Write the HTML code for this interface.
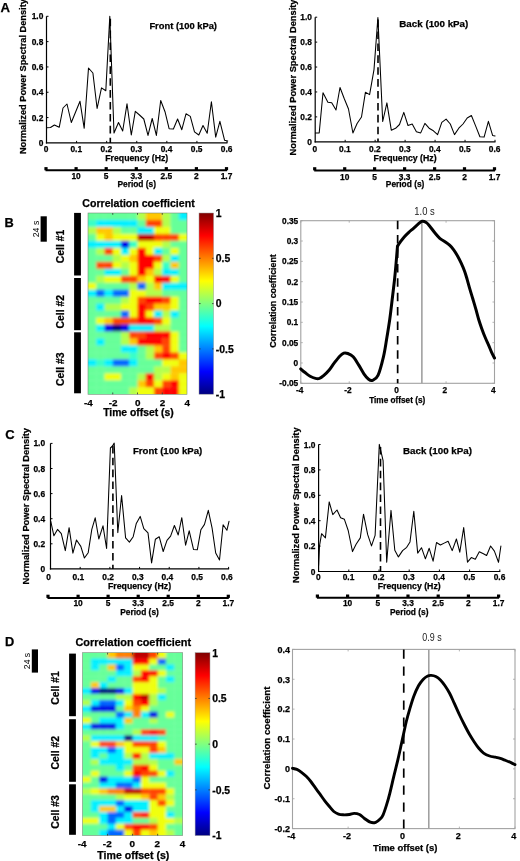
<!DOCTYPE html>
<html><head><meta charset="utf-8"><style>
html,body{margin:0;padding:0;background:#fff;width:520px;height:861px;overflow:hidden}
svg{display:block;filter:blur(0.35px)}
text{font-family:"Liberation Sans", sans-serif}
text[font-weight="bold"]{stroke:#000;stroke-width:0.25px}
</style></head><body>
<svg width="520" height="861" viewBox="0 0 520 861" font-family='"Liberation Sans", sans-serif'>
<defs><filter id="blur" x="-5%" y="-5%" width="110%" height="110%"><feGaussianBlur stdDeviation="1.5"/></filter></defs>
<rect width="520" height="861" fill="#fff"/>
<text x="0.4" y="11.6" font-size="13.2" font-weight="bold">A</text>
<line x1="46.5" y1="16.3" x2="46.5" y2="143.5" stroke="#000" stroke-width="1.2" />
<line x1="45.9" y1="142.9" x2="227.5" y2="142.9" stroke="#000" stroke-width="1.2" />
<line x1="46.5" y1="117.58" x2="48.5" y2="117.58" stroke="#000" stroke-width="1" />
<line x1="46.5" y1="92.25999999999999" x2="48.5" y2="92.25999999999999" stroke="#000" stroke-width="1" />
<line x1="46.5" y1="66.94" x2="48.5" y2="66.94" stroke="#000" stroke-width="1" />
<line x1="46.5" y1="41.61999999999999" x2="48.5" y2="41.61999999999999" stroke="#000" stroke-width="1" />
<line x1="46.5" y1="16.299999999999997" x2="48.5" y2="16.299999999999997" stroke="#000" stroke-width="1" />
<line x1="76.58333333333333" y1="142.9" x2="76.58333333333333" y2="140.9" stroke="#000" stroke-width="1" />
<line x1="106.66666666666666" y1="142.9" x2="106.66666666666666" y2="140.9" stroke="#000" stroke-width="1" />
<line x1="136.75" y1="142.9" x2="136.75" y2="140.9" stroke="#000" stroke-width="1" />
<line x1="166.83333333333331" y1="142.9" x2="166.83333333333331" y2="140.9" stroke="#000" stroke-width="1" />
<line x1="196.91666666666666" y1="142.9" x2="196.91666666666666" y2="140.9" stroke="#000" stroke-width="1" />
<line x1="227.0" y1="142.9" x2="227.0" y2="140.9" stroke="#000" stroke-width="1" />
<polyline points="46.7,127.7 50.5,127.5 54.4,125.0 59.2,127.3 63.0,108.0 67.0,104.0 71.3,122.5 75.6,112.0 80.0,101.3 84.2,128.3 88.5,68.0 92.9,73.0 97.1,108.5 101.5,87.9 105.8,90.8 109.8,16.2 114.0,133.0 118.5,122.5 122.7,131.0 127.0,103.8 131.3,135.0 135.3,111.3 139.5,115.0 143.8,119.0 148.0,135.4 152.2,118.5 156.4,135.4 160.7,100.5 165.0,111.7 169.1,128.7 173.4,129.0 177.6,119.0 181.8,129.7 186.0,113.8 190.3,116.4 194.5,131.8 198.8,135.0 203.0,125.5 207.2,133.3 211.4,101.8 215.7,137.1 219.9,121.3 224.6,140.3 227.7,141.0" fill="none" stroke="#000" stroke-width="1.05" stroke-linejoin="round" stroke-linecap="round" />
<line x1="110.3" y1="18.7" x2="110.3" y2="142.9" stroke="#000" stroke-width="1.6" stroke-dasharray="7.6,4.3"/>
<text x="43.3" y="145.9" font-size="8.4" text-anchor="end" font-weight="bold" fill="#000" >0</text>
<text x="43.3" y="120.58" font-size="8.4" text-anchor="end" font-weight="bold" fill="#000" >0.2</text>
<text x="43.3" y="95.25999999999999" font-size="8.4" text-anchor="end" font-weight="bold" fill="#000" >0.4</text>
<text x="43.3" y="69.94" font-size="8.4" text-anchor="end" font-weight="bold" fill="#000" >0.6</text>
<text x="43.3" y="44.61999999999999" font-size="8.4" text-anchor="end" font-weight="bold" fill="#000" >0.8</text>
<text x="43.3" y="19.299999999999997" font-size="8.4" text-anchor="end" font-weight="bold" fill="#000" >1.0</text>
<text x="46.2" y="152.1" font-size="8.4" text-anchor="middle" font-weight="bold" fill="#000" >0</text>
<text x="76.28333333333333" y="152.1" font-size="8.4" text-anchor="middle" font-weight="bold" fill="#000" >0.1</text>
<text x="106.36666666666666" y="152.1" font-size="8.4" text-anchor="middle" font-weight="bold" fill="#000" >0.2</text>
<text x="136.45" y="152.1" font-size="8.4" text-anchor="middle" font-weight="bold" fill="#000" >0.3</text>
<text x="166.5333333333333" y="152.1" font-size="8.4" text-anchor="middle" font-weight="bold" fill="#000" >0.4</text>
<text x="196.61666666666665" y="152.1" font-size="8.4" text-anchor="middle" font-weight="bold" fill="#000" >0.5</text>
<text x="226.7" y="152.1" font-size="8.4" text-anchor="middle" font-weight="bold" fill="#000" >0.6</text>
<text x="136.75" y="161.1" font-size="8.9" text-anchor="middle" font-weight="bold" fill="#000" textLength="63" lengthAdjust="spacingAndGlyphs">Frequency (Hz)</text>
<line x1="45.5" y1="170.3" x2="227.0" y2="170.3" stroke="#000" stroke-width="2.0" />
<rect x="44.4" y="167.1" width="3.2" height="3.2" fill="#000"/>
<rect x="74.5" y="167.1" width="3.2" height="3.2" fill="#000"/>
<rect x="104.6" y="167.1" width="3.2" height="3.2" fill="#000"/>
<rect x="134.7" y="167.1" width="3.2" height="3.2" fill="#000"/>
<rect x="164.7" y="167.1" width="3.2" height="3.2" fill="#000"/>
<rect x="194.8" y="167.1" width="3.2" height="3.2" fill="#000"/>
<rect x="224.9" y="167.1" width="3.2" height="3.2" fill="#000"/>
<text x="76.08333333333333" y="179" font-size="8.4" text-anchor="middle" font-weight="bold" fill="#000" >10</text>
<text x="106.16666666666666" y="179" font-size="8.4" text-anchor="middle" font-weight="bold" fill="#000" >5</text>
<text x="136.25" y="179" font-size="8.4" text-anchor="middle" font-weight="bold" fill="#000" >3.3</text>
<text x="166.33333333333331" y="179" font-size="8.4" text-anchor="middle" font-weight="bold" fill="#000" >2.5</text>
<text x="196.41666666666666" y="179" font-size="8.4" text-anchor="middle" font-weight="bold" fill="#000" >2</text>
<text x="226.5" y="179" font-size="8.4" text-anchor="middle" font-weight="bold" fill="#000" >1.7</text>
<text x="136.75" y="186.8" font-size="8.8" text-anchor="middle" font-weight="bold" fill="#000" textLength="38.6" lengthAdjust="spacingAndGlyphs">Period (s)</text>
<text transform="translate(26.3,76.6) rotate(-90)" x="0" y="0" font-size="9.6" text-anchor="middle" font-weight="bold" textLength="155" lengthAdjust="spacingAndGlyphs">Normalized Power Spectral Density</text>
<text x="149.4" y="28.6" font-size="9.6" font-weight="bold" textLength="67.6" lengthAdjust="spacingAndGlyphs">Front (100 kPa)</text>
<line x1="315.2" y1="17.2" x2="315.2" y2="142.4" stroke="#000" stroke-width="1.2" />
<line x1="314.59999999999997" y1="141.8" x2="495.5" y2="141.8" stroke="#000" stroke-width="1.2" />
<line x1="315.2" y1="116.88000000000001" x2="317.2" y2="116.88000000000001" stroke="#000" stroke-width="1" />
<line x1="315.2" y1="91.96000000000001" x2="317.2" y2="91.96000000000001" stroke="#000" stroke-width="1" />
<line x1="315.2" y1="67.04" x2="317.2" y2="67.04" stroke="#000" stroke-width="1" />
<line x1="315.2" y1="42.120000000000005" x2="317.2" y2="42.120000000000005" stroke="#000" stroke-width="1" />
<line x1="315.2" y1="17.200000000000003" x2="317.2" y2="17.200000000000003" stroke="#000" stroke-width="1" />
<line x1="345.16666666666663" y1="141.8" x2="345.16666666666663" y2="139.8" stroke="#000" stroke-width="1" />
<line x1="375.1333333333333" y1="141.8" x2="375.1333333333333" y2="139.8" stroke="#000" stroke-width="1" />
<line x1="405.1" y1="141.8" x2="405.1" y2="139.8" stroke="#000" stroke-width="1" />
<line x1="435.06666666666666" y1="141.8" x2="435.06666666666666" y2="139.8" stroke="#000" stroke-width="1" />
<line x1="465.0333333333333" y1="141.8" x2="465.0333333333333" y2="139.8" stroke="#000" stroke-width="1" />
<line x1="495.0" y1="141.8" x2="495.0" y2="139.8" stroke="#000" stroke-width="1" />
<polyline points="315.4,133.0 319.2,133.0 323.0,92.7 327.9,102.3 331.7,102.7 336.0,110.0 340.0,87.5 344.2,98.5 348.5,109.0 352.9,133.0 357.1,123.5 361.5,117.0 365.4,92.3 369.6,94.6 374.0,69.6 377.9,17.5 382.7,121.5 386.9,102.9 391.3,130.2 395.6,128.3 399.5,124.5 403.8,112.4 408.0,125.5 412.2,124.0 416.4,131.8 420.7,132.9 424.9,123.4 429.1,128.2 433.4,130.8 437.6,134.6 441.8,122.3 446.1,119.1 450.3,124.0 454.5,134.6 458.8,128.2 463.0,124.0 467.2,118.0 471.4,115.5 475.7,126.1 479.9,136.7 484.1,137.1 488.4,121.3 492.6,135.4 495.1,136.0" fill="none" stroke="#000" stroke-width="1.05" stroke-linejoin="round" stroke-linecap="round" />
<line x1="378" y1="19.599999999999998" x2="378" y2="141.8" stroke="#000" stroke-width="1.6" stroke-dasharray="7.6,4.3"/>
<text x="312.0" y="144.8" font-size="8.4" text-anchor="end" font-weight="bold" fill="#000" >0</text>
<text x="312.0" y="119.88000000000001" font-size="8.4" text-anchor="end" font-weight="bold" fill="#000" >0.2</text>
<text x="312.0" y="94.96000000000001" font-size="8.4" text-anchor="end" font-weight="bold" fill="#000" >0.4</text>
<text x="312.0" y="70.04" font-size="8.4" text-anchor="end" font-weight="bold" fill="#000" >0.6</text>
<text x="312.0" y="45.120000000000005" font-size="8.4" text-anchor="end" font-weight="bold" fill="#000" >0.8</text>
<text x="312.0" y="20.200000000000003" font-size="8.4" text-anchor="end" font-weight="bold" fill="#000" >1.0</text>
<text x="314.9" y="151.8" font-size="8.4" text-anchor="middle" font-weight="bold" fill="#000" >0</text>
<text x="344.8666666666666" y="151.8" font-size="8.4" text-anchor="middle" font-weight="bold" fill="#000" >0.1</text>
<text x="374.8333333333333" y="151.8" font-size="8.4" text-anchor="middle" font-weight="bold" fill="#000" >0.2</text>
<text x="404.8" y="151.8" font-size="8.4" text-anchor="middle" font-weight="bold" fill="#000" >0.3</text>
<text x="434.76666666666665" y="151.8" font-size="8.4" text-anchor="middle" font-weight="bold" fill="#000" >0.4</text>
<text x="464.7333333333333" y="151.8" font-size="8.4" text-anchor="middle" font-weight="bold" fill="#000" >0.5</text>
<text x="494.7" y="151.8" font-size="8.4" text-anchor="middle" font-weight="bold" fill="#000" >0.6</text>
<text x="405.1" y="161.4" font-size="8.9" text-anchor="middle" font-weight="bold" fill="#000" textLength="63" lengthAdjust="spacingAndGlyphs">Frequency (Hz)</text>
<line x1="314.2" y1="170.4" x2="495.0" y2="170.4" stroke="#000" stroke-width="2.0" />
<rect x="313.1" y="167.2" width="3.2" height="3.2" fill="#000"/>
<rect x="343.1" y="167.2" width="3.2" height="3.2" fill="#000"/>
<rect x="373.0" y="167.2" width="3.2" height="3.2" fill="#000"/>
<rect x="403.0" y="167.2" width="3.2" height="3.2" fill="#000"/>
<rect x="433.0" y="167.2" width="3.2" height="3.2" fill="#000"/>
<rect x="462.9" y="167.2" width="3.2" height="3.2" fill="#000"/>
<rect x="492.9" y="167.2" width="3.2" height="3.2" fill="#000"/>
<text x="344.66666666666663" y="179.5" font-size="8.4" text-anchor="middle" font-weight="bold" fill="#000" >10</text>
<text x="374.6333333333333" y="179.5" font-size="8.4" text-anchor="middle" font-weight="bold" fill="#000" >5</text>
<text x="404.6" y="179.5" font-size="8.4" text-anchor="middle" font-weight="bold" fill="#000" >3.3</text>
<text x="434.56666666666666" y="179.5" font-size="8.4" text-anchor="middle" font-weight="bold" fill="#000" >2.5</text>
<text x="464.5333333333333" y="179.5" font-size="8.4" text-anchor="middle" font-weight="bold" fill="#000" >2</text>
<text x="494.5" y="179.5" font-size="8.4" text-anchor="middle" font-weight="bold" fill="#000" >1.7</text>
<text x="405.1" y="187.3" font-size="8.8" text-anchor="middle" font-weight="bold" fill="#000" textLength="38.6" lengthAdjust="spacingAndGlyphs">Period (s)</text>
<text transform="translate(295.6,77.5) rotate(-90)" x="0" y="0" font-size="9.6" text-anchor="middle" font-weight="bold" textLength="156" lengthAdjust="spacingAndGlyphs">Normalized Power Spectral Density</text>
<text x="399.3" y="27" font-size="9.6" font-weight="bold" textLength="69" lengthAdjust="spacingAndGlyphs">Back (100 kPa)</text>
<text x="4.6" y="227.2" font-size="12.8" font-weight="bold">B</text>
<rect x="40.6" y="216.3" width="6.2" height="25.4" fill="#000"/>
<text transform="translate(39.2,229.0) rotate(-90)" font-size="9" text-anchor="middle" textLength="16.5" lengthAdjust="spacingAndGlyphs">24 s</text>
<rect x="74.1" y="212.9" width="6.8" height="62.599999999999994" fill="#000"/>
<rect x="74.1" y="278" width="6.8" height="52.19999999999999" fill="#000"/>
<rect x="74.1" y="332.3" width="6.8" height="61.0" fill="#000"/>
<text transform="translate(63.6,246.5) rotate(-90)" font-size="10.6" text-anchor="middle" font-weight="bold" textLength="33.5" lengthAdjust="spacingAndGlyphs">Cell #1</text>
<text transform="translate(63.6,311.7) rotate(-90)" font-size="10.6" text-anchor="middle" font-weight="bold" textLength="33.5" lengthAdjust="spacingAndGlyphs">Cell #2</text>
<text transform="translate(63.6,369.2) rotate(-90)" font-size="10.6" text-anchor="middle" font-weight="bold" textLength="33.5" lengthAdjust="spacingAndGlyphs">Cell #3</text>
<clipPath id="clipB"><rect x="88" y="213" width="99" height="181.3"/></clipPath>
<g clip-path="url(#clipB)"><g filter="url(#blur)">
<rect x="85.00" y="210.00" width="11.55" height="10.27" fill="#66ff99"/>
<rect x="96.25" y="210.00" width="8.55" height="10.27" fill="#66ff99"/>
<rect x="104.50" y="210.00" width="8.55" height="10.27" fill="#66ff99"/>
<rect x="112.75" y="210.00" width="8.55" height="10.27" fill="#66ff99"/>
<rect x="121.00" y="210.00" width="8.55" height="10.27" fill="#66ff99"/>
<rect x="129.25" y="210.00" width="8.55" height="10.27" fill="#66ff99"/>
<rect x="137.50" y="210.00" width="8.55" height="10.27" fill="#b3ff4c"/>
<rect x="145.75" y="210.00" width="8.55" height="10.27" fill="#ffc700"/>
<rect x="154.00" y="210.00" width="8.55" height="10.27" fill="#ffc700"/>
<rect x="162.25" y="210.00" width="8.55" height="10.27" fill="#b3ff4c"/>
<rect x="170.50" y="210.00" width="8.55" height="10.27" fill="#66ff99"/>
<rect x="178.75" y="210.00" width="11.55" height="10.27" fill="#00f0ff"/>
<rect x="85.00" y="219.97" width="11.55" height="7.27" fill="#38ffc7"/>
<rect x="96.25" y="219.97" width="8.55" height="7.27" fill="#00f0ff"/>
<rect x="104.50" y="219.97" width="8.55" height="7.27" fill="#00f0ff"/>
<rect x="112.75" y="219.97" width="8.55" height="7.27" fill="#00f0ff"/>
<rect x="121.00" y="219.97" width="8.55" height="7.27" fill="#00f0ff"/>
<rect x="129.25" y="219.97" width="8.55" height="7.27" fill="#00f0ff"/>
<rect x="137.50" y="219.97" width="8.55" height="7.27" fill="#66ff99"/>
<rect x="145.75" y="219.97" width="8.55" height="7.27" fill="#ff4200"/>
<rect x="154.00" y="219.97" width="8.55" height="7.27" fill="#ff4200"/>
<rect x="162.25" y="219.97" width="8.55" height="7.27" fill="#b3ff4c"/>
<rect x="170.50" y="219.97" width="8.55" height="7.27" fill="#66ff99"/>
<rect x="178.75" y="219.97" width="11.55" height="7.27" fill="#66ff99"/>
<rect x="85.00" y="226.95" width="11.55" height="7.27" fill="#b3ff4c"/>
<rect x="96.25" y="226.95" width="8.55" height="7.27" fill="#ffc700"/>
<rect x="104.50" y="226.95" width="8.55" height="7.27" fill="#ffc700"/>
<rect x="112.75" y="226.95" width="8.55" height="7.27" fill="#b3ff4c"/>
<rect x="121.00" y="226.95" width="8.55" height="7.27" fill="#66ff99"/>
<rect x="129.25" y="226.95" width="8.55" height="7.27" fill="#66ff99"/>
<rect x="137.50" y="226.95" width="8.55" height="7.27" fill="#00f0ff"/>
<rect x="145.75" y="226.95" width="8.55" height="7.27" fill="#00f0ff"/>
<rect x="154.00" y="226.95" width="8.55" height="7.27" fill="#f0ff0f"/>
<rect x="162.25" y="226.95" width="8.55" height="7.27" fill="#f0ff0f"/>
<rect x="170.50" y="226.95" width="8.55" height="7.27" fill="#66ff99"/>
<rect x="178.75" y="226.95" width="11.55" height="7.27" fill="#66ff99"/>
<rect x="85.00" y="233.92" width="11.55" height="7.27" fill="#66ff99"/>
<rect x="96.25" y="233.92" width="8.55" height="7.27" fill="#f0ff0f"/>
<rect x="104.50" y="233.92" width="8.55" height="7.27" fill="#ffc700"/>
<rect x="112.75" y="233.92" width="8.55" height="7.27" fill="#f0ff0f"/>
<rect x="121.00" y="233.92" width="8.55" height="7.27" fill="#f0ff0f"/>
<rect x="129.25" y="233.92" width="8.55" height="7.27" fill="#f0ff0f"/>
<rect x="137.50" y="233.92" width="8.55" height="7.27" fill="#bd0000"/>
<rect x="145.75" y="233.92" width="8.55" height="7.27" fill="#bd0000"/>
<rect x="154.00" y="233.92" width="8.55" height="7.27" fill="#ff4200"/>
<rect x="162.25" y="233.92" width="8.55" height="7.27" fill="#ff4200"/>
<rect x="170.50" y="233.92" width="8.55" height="7.27" fill="#ff4200"/>
<rect x="178.75" y="233.92" width="11.55" height="7.27" fill="#f0ff0f"/>
<rect x="85.00" y="240.89" width="11.55" height="7.27" fill="#00f0ff"/>
<rect x="96.25" y="240.89" width="8.55" height="7.27" fill="#00f0ff"/>
<rect x="104.50" y="240.89" width="8.55" height="7.27" fill="#00f0ff"/>
<rect x="112.75" y="240.89" width="8.55" height="7.27" fill="#00f0ff"/>
<rect x="121.00" y="240.89" width="8.55" height="7.27" fill="#0000e5"/>
<rect x="129.25" y="240.89" width="8.55" height="7.27" fill="#38ffc7"/>
<rect x="137.50" y="240.89" width="8.55" height="7.27" fill="#f0ff0f"/>
<rect x="145.75" y="240.89" width="8.55" height="7.27" fill="#f0ff0f"/>
<rect x="154.00" y="240.89" width="8.55" height="7.27" fill="#f0ff0f"/>
<rect x="162.25" y="240.89" width="8.55" height="7.27" fill="#b3ff4c"/>
<rect x="170.50" y="240.89" width="8.55" height="7.27" fill="#66ff99"/>
<rect x="178.75" y="240.89" width="11.55" height="7.27" fill="#66ff99"/>
<rect x="85.00" y="247.87" width="11.55" height="7.27" fill="#66ff99"/>
<rect x="96.25" y="247.87" width="8.55" height="7.27" fill="#b3ff4c"/>
<rect x="104.50" y="247.87" width="8.55" height="7.27" fill="#ff4200"/>
<rect x="112.75" y="247.87" width="8.55" height="7.27" fill="#f0ff0f"/>
<rect x="121.00" y="247.87" width="8.55" height="7.27" fill="#00f0ff"/>
<rect x="129.25" y="247.87" width="8.55" height="7.27" fill="#f0ff0f"/>
<rect x="137.50" y="247.87" width="8.55" height="7.27" fill="#ff0000"/>
<rect x="145.75" y="247.87" width="8.55" height="7.27" fill="#f0ff0f"/>
<rect x="154.00" y="247.87" width="8.55" height="7.27" fill="#00f0ff"/>
<rect x="162.25" y="247.87" width="8.55" height="7.27" fill="#66ff99"/>
<rect x="170.50" y="247.87" width="8.55" height="7.27" fill="#f0ff0f"/>
<rect x="178.75" y="247.87" width="11.55" height="7.27" fill="#66ff99"/>
<rect x="85.00" y="254.84" width="11.55" height="7.27" fill="#66ff99"/>
<rect x="96.25" y="254.84" width="8.55" height="7.27" fill="#66ff99"/>
<rect x="104.50" y="254.84" width="8.55" height="7.27" fill="#66ff99"/>
<rect x="112.75" y="254.84" width="8.55" height="7.27" fill="#b3ff4c"/>
<rect x="121.00" y="254.84" width="8.55" height="7.27" fill="#f0ff0f"/>
<rect x="129.25" y="254.84" width="8.55" height="7.27" fill="#ffc700"/>
<rect x="137.50" y="254.84" width="8.55" height="7.27" fill="#ff0000"/>
<rect x="145.75" y="254.84" width="8.55" height="7.27" fill="#ff0000"/>
<rect x="154.00" y="254.84" width="8.55" height="7.27" fill="#ff4200"/>
<rect x="162.25" y="254.84" width="8.55" height="7.27" fill="#b3ff4c"/>
<rect x="170.50" y="254.84" width="8.55" height="7.27" fill="#00f0ff"/>
<rect x="178.75" y="254.84" width="11.55" height="7.27" fill="#66ff99"/>
<rect x="85.00" y="261.81" width="11.55" height="7.27" fill="#66ff99"/>
<rect x="96.25" y="261.81" width="8.55" height="7.27" fill="#ff4200"/>
<rect x="104.50" y="261.81" width="8.55" height="7.27" fill="#ff4200"/>
<rect x="112.75" y="261.81" width="8.55" height="7.27" fill="#f0ff0f"/>
<rect x="121.00" y="261.81" width="8.55" height="7.27" fill="#b3ff4c"/>
<rect x="129.25" y="261.81" width="8.55" height="7.27" fill="#f0ff0f"/>
<rect x="137.50" y="261.81" width="8.55" height="7.27" fill="#ff0000"/>
<rect x="145.75" y="261.81" width="8.55" height="7.27" fill="#ff0000"/>
<rect x="154.00" y="261.81" width="8.55" height="7.27" fill="#f0ff0f"/>
<rect x="162.25" y="261.81" width="8.55" height="7.27" fill="#38ffc7"/>
<rect x="170.50" y="261.81" width="8.55" height="7.27" fill="#ffc700"/>
<rect x="178.75" y="261.81" width="11.55" height="7.27" fill="#66ff99"/>
<rect x="85.00" y="268.78" width="11.55" height="7.27" fill="#66ff99"/>
<rect x="96.25" y="268.78" width="8.55" height="7.27" fill="#66ff99"/>
<rect x="104.50" y="268.78" width="8.55" height="7.27" fill="#00f0ff"/>
<rect x="112.75" y="268.78" width="8.55" height="7.27" fill="#00f0ff"/>
<rect x="121.00" y="268.78" width="8.55" height="7.27" fill="#66ff99"/>
<rect x="129.25" y="268.78" width="8.55" height="7.27" fill="#f0ff0f"/>
<rect x="137.50" y="268.78" width="8.55" height="7.27" fill="#ff0000"/>
<rect x="145.75" y="268.78" width="8.55" height="7.27" fill="#ffc700"/>
<rect x="154.00" y="268.78" width="8.55" height="7.27" fill="#b3ff4c"/>
<rect x="162.25" y="268.78" width="8.55" height="7.27" fill="#00f0ff"/>
<rect x="170.50" y="268.78" width="8.55" height="7.27" fill="#00f0ff"/>
<rect x="178.75" y="268.78" width="11.55" height="7.27" fill="#66ff99"/>
<rect x="85.00" y="275.76" width="11.55" height="7.27" fill="#66ff99"/>
<rect x="96.25" y="275.76" width="8.55" height="7.27" fill="#b3ff4c"/>
<rect x="104.50" y="275.76" width="8.55" height="7.27" fill="#f0ff0f"/>
<rect x="112.75" y="275.76" width="8.55" height="7.27" fill="#f0ff0f"/>
<rect x="121.00" y="275.76" width="8.55" height="7.27" fill="#ff4200"/>
<rect x="129.25" y="275.76" width="8.55" height="7.27" fill="#ff4200"/>
<rect x="137.50" y="275.76" width="8.55" height="7.27" fill="#ffc700"/>
<rect x="145.75" y="275.76" width="8.55" height="7.27" fill="#f0ff0f"/>
<rect x="154.00" y="275.76" width="8.55" height="7.27" fill="#ff0000"/>
<rect x="162.25" y="275.76" width="8.55" height="7.27" fill="#ff0000"/>
<rect x="170.50" y="275.76" width="8.55" height="7.27" fill="#f0ff0f"/>
<rect x="178.75" y="275.76" width="11.55" height="7.27" fill="#66ff99"/>
<rect x="85.00" y="282.73" width="11.55" height="7.27" fill="#f0ff0f"/>
<rect x="96.25" y="282.73" width="8.55" height="7.27" fill="#66ff99"/>
<rect x="104.50" y="282.73" width="8.55" height="7.27" fill="#66ff99"/>
<rect x="112.75" y="282.73" width="8.55" height="7.27" fill="#66ff99"/>
<rect x="121.00" y="282.73" width="8.55" height="7.27" fill="#66ff99"/>
<rect x="129.25" y="282.73" width="8.55" height="7.27" fill="#b3ff4c"/>
<rect x="137.50" y="282.73" width="8.55" height="7.27" fill="#0066ff"/>
<rect x="145.75" y="282.73" width="8.55" height="7.27" fill="#b3ff4c"/>
<rect x="154.00" y="282.73" width="8.55" height="7.27" fill="#ffc700"/>
<rect x="162.25" y="282.73" width="8.55" height="7.27" fill="#00f0ff"/>
<rect x="170.50" y="282.73" width="8.55" height="7.27" fill="#00f0ff"/>
<rect x="178.75" y="282.73" width="11.55" height="7.27" fill="#00f0ff"/>
<rect x="85.00" y="289.70" width="11.55" height="7.27" fill="#00f0ff"/>
<rect x="96.25" y="289.70" width="8.55" height="7.27" fill="#0066ff"/>
<rect x="104.50" y="289.70" width="8.55" height="7.27" fill="#00f0ff"/>
<rect x="112.75" y="289.70" width="8.55" height="7.27" fill="#0066ff"/>
<rect x="121.00" y="289.70" width="8.55" height="7.27" fill="#0066ff"/>
<rect x="129.25" y="289.70" width="8.55" height="7.27" fill="#f0ff0f"/>
<rect x="137.50" y="289.70" width="8.55" height="7.27" fill="#f0ff0f"/>
<rect x="145.75" y="289.70" width="8.55" height="7.27" fill="#b3ff4c"/>
<rect x="154.00" y="289.70" width="8.55" height="7.27" fill="#b3ff4c"/>
<rect x="162.25" y="289.70" width="8.55" height="7.27" fill="#66ff99"/>
<rect x="170.50" y="289.70" width="8.55" height="7.27" fill="#66ff99"/>
<rect x="178.75" y="289.70" width="11.55" height="7.27" fill="#66ff99"/>
<rect x="85.00" y="296.68" width="11.55" height="7.27" fill="#66ff99"/>
<rect x="96.25" y="296.68" width="8.55" height="7.27" fill="#66ff99"/>
<rect x="104.50" y="296.68" width="8.55" height="7.27" fill="#66ff99"/>
<rect x="112.75" y="296.68" width="8.55" height="7.27" fill="#66ff99"/>
<rect x="121.00" y="296.68" width="8.55" height="7.27" fill="#b3ff4c"/>
<rect x="129.25" y="296.68" width="8.55" height="7.27" fill="#f0ff0f"/>
<rect x="137.50" y="296.68" width="8.55" height="7.27" fill="#ff4200"/>
<rect x="145.75" y="296.68" width="8.55" height="7.27" fill="#ff0000"/>
<rect x="154.00" y="296.68" width="8.55" height="7.27" fill="#ff0000"/>
<rect x="162.25" y="296.68" width="8.55" height="7.27" fill="#ff4200"/>
<rect x="170.50" y="296.68" width="8.55" height="7.27" fill="#f0ff0f"/>
<rect x="178.75" y="296.68" width="11.55" height="7.27" fill="#66ff99"/>
<rect x="85.00" y="303.65" width="11.55" height="7.27" fill="#66ff99"/>
<rect x="96.25" y="303.65" width="8.55" height="7.27" fill="#00f0ff"/>
<rect x="104.50" y="303.65" width="8.55" height="7.27" fill="#b3ff4c"/>
<rect x="112.75" y="303.65" width="8.55" height="7.27" fill="#b3ff4c"/>
<rect x="121.00" y="303.65" width="8.55" height="7.27" fill="#f0ff0f"/>
<rect x="129.25" y="303.65" width="8.55" height="7.27" fill="#f0ff0f"/>
<rect x="137.50" y="303.65" width="8.55" height="7.27" fill="#ff0000"/>
<rect x="145.75" y="303.65" width="8.55" height="7.27" fill="#ff4200"/>
<rect x="154.00" y="303.65" width="8.55" height="7.27" fill="#ffc700"/>
<rect x="162.25" y="303.65" width="8.55" height="7.27" fill="#ffc700"/>
<rect x="170.50" y="303.65" width="8.55" height="7.27" fill="#f0ff0f"/>
<rect x="178.75" y="303.65" width="11.55" height="7.27" fill="#66ff99"/>
<rect x="85.00" y="310.62" width="11.55" height="7.27" fill="#66ff99"/>
<rect x="96.25" y="310.62" width="8.55" height="7.27" fill="#66ff99"/>
<rect x="104.50" y="310.62" width="8.55" height="7.27" fill="#66ff99"/>
<rect x="112.75" y="310.62" width="8.55" height="7.27" fill="#66ff99"/>
<rect x="121.00" y="310.62" width="8.55" height="7.27" fill="#0066ff"/>
<rect x="129.25" y="310.62" width="8.55" height="7.27" fill="#f0ff0f"/>
<rect x="137.50" y="310.62" width="8.55" height="7.27" fill="#ff0000"/>
<rect x="145.75" y="310.62" width="8.55" height="7.27" fill="#f0ff0f"/>
<rect x="154.00" y="310.62" width="8.55" height="7.27" fill="#00f0ff"/>
<rect x="162.25" y="310.62" width="8.55" height="7.27" fill="#b3ff4c"/>
<rect x="170.50" y="310.62" width="8.55" height="7.27" fill="#00f0ff"/>
<rect x="178.75" y="310.62" width="11.55" height="7.27" fill="#66ff99"/>
<rect x="85.00" y="317.60" width="11.55" height="7.27" fill="#66ff99"/>
<rect x="96.25" y="317.60" width="8.55" height="7.27" fill="#f0ff0f"/>
<rect x="104.50" y="317.60" width="8.55" height="7.27" fill="#ffc700"/>
<rect x="112.75" y="317.60" width="8.55" height="7.27" fill="#ff4200"/>
<rect x="121.00" y="317.60" width="8.55" height="7.27" fill="#ff4200"/>
<rect x="129.25" y="317.60" width="8.55" height="7.27" fill="#ff4200"/>
<rect x="137.50" y="317.60" width="8.55" height="7.27" fill="#ff0000"/>
<rect x="145.75" y="317.60" width="8.55" height="7.27" fill="#ff0000"/>
<rect x="154.00" y="317.60" width="8.55" height="7.27" fill="#ff4200"/>
<rect x="162.25" y="317.60" width="8.55" height="7.27" fill="#f0ff0f"/>
<rect x="170.50" y="317.60" width="8.55" height="7.27" fill="#66ff99"/>
<rect x="178.75" y="317.60" width="11.55" height="7.27" fill="#66ff99"/>
<rect x="85.00" y="324.57" width="11.55" height="7.27" fill="#66ff99"/>
<rect x="96.25" y="324.57" width="8.55" height="7.27" fill="#00f0ff"/>
<rect x="104.50" y="324.57" width="8.55" height="7.27" fill="#0000e5"/>
<rect x="112.75" y="324.57" width="8.55" height="7.27" fill="#000080"/>
<rect x="121.00" y="324.57" width="8.55" height="7.27" fill="#0000e5"/>
<rect x="129.25" y="324.57" width="8.55" height="7.27" fill="#00f0ff"/>
<rect x="137.50" y="324.57" width="8.55" height="7.27" fill="#00f0ff"/>
<rect x="145.75" y="324.57" width="8.55" height="7.27" fill="#00f0ff"/>
<rect x="154.00" y="324.57" width="8.55" height="7.27" fill="#b3ff4c"/>
<rect x="162.25" y="324.57" width="8.55" height="7.27" fill="#b3ff4c"/>
<rect x="170.50" y="324.57" width="8.55" height="7.27" fill="#66ff99"/>
<rect x="178.75" y="324.57" width="11.55" height="7.27" fill="#66ff99"/>
<rect x="85.00" y="331.54" width="11.55" height="7.27" fill="#66ff99"/>
<rect x="96.25" y="331.54" width="8.55" height="7.27" fill="#66ff99"/>
<rect x="104.50" y="331.54" width="8.55" height="7.27" fill="#66ff99"/>
<rect x="112.75" y="331.54" width="8.55" height="7.27" fill="#66ff99"/>
<rect x="121.00" y="331.54" width="8.55" height="7.27" fill="#b3ff4c"/>
<rect x="129.25" y="331.54" width="8.55" height="7.27" fill="#ff4200"/>
<rect x="137.50" y="331.54" width="8.55" height="7.27" fill="#ff4200"/>
<rect x="145.75" y="331.54" width="8.55" height="7.27" fill="#ff0000"/>
<rect x="154.00" y="331.54" width="8.55" height="7.27" fill="#ff0000"/>
<rect x="162.25" y="331.54" width="8.55" height="7.27" fill="#ff0000"/>
<rect x="170.50" y="331.54" width="8.55" height="7.27" fill="#f0ff0f"/>
<rect x="178.75" y="331.54" width="11.55" height="7.27" fill="#66ff99"/>
<rect x="85.00" y="338.52" width="11.55" height="7.27" fill="#66ff99"/>
<rect x="96.25" y="338.52" width="8.55" height="7.27" fill="#00f0ff"/>
<rect x="104.50" y="338.52" width="8.55" height="7.27" fill="#66ff99"/>
<rect x="112.75" y="338.52" width="8.55" height="7.27" fill="#66ff99"/>
<rect x="121.00" y="338.52" width="8.55" height="7.27" fill="#b3ff4c"/>
<rect x="129.25" y="338.52" width="8.55" height="7.27" fill="#ffc700"/>
<rect x="137.50" y="338.52" width="8.55" height="7.27" fill="#ff0000"/>
<rect x="145.75" y="338.52" width="8.55" height="7.27" fill="#ff0000"/>
<rect x="154.00" y="338.52" width="8.55" height="7.27" fill="#ff0000"/>
<rect x="162.25" y="338.52" width="8.55" height="7.27" fill="#ff4200"/>
<rect x="170.50" y="338.52" width="8.55" height="7.27" fill="#f0ff0f"/>
<rect x="178.75" y="338.52" width="11.55" height="7.27" fill="#66ff99"/>
<rect x="85.00" y="345.49" width="11.55" height="7.27" fill="#66ff99"/>
<rect x="96.25" y="345.49" width="8.55" height="7.27" fill="#66ff99"/>
<rect x="104.50" y="345.49" width="8.55" height="7.27" fill="#66ff99"/>
<rect x="112.75" y="345.49" width="8.55" height="7.27" fill="#66ff99"/>
<rect x="121.00" y="345.49" width="8.55" height="7.27" fill="#00f0ff"/>
<rect x="129.25" y="345.49" width="8.55" height="7.27" fill="#00f0ff"/>
<rect x="137.50" y="345.49" width="8.55" height="7.27" fill="#66ff99"/>
<rect x="145.75" y="345.49" width="8.55" height="7.27" fill="#b3ff4c"/>
<rect x="154.00" y="345.49" width="8.55" height="7.27" fill="#ffc700"/>
<rect x="162.25" y="345.49" width="8.55" height="7.27" fill="#ff4200"/>
<rect x="170.50" y="345.49" width="8.55" height="7.27" fill="#f0ff0f"/>
<rect x="178.75" y="345.49" width="11.55" height="7.27" fill="#66ff99"/>
<rect x="85.00" y="352.46" width="11.55" height="7.27" fill="#66ff99"/>
<rect x="96.25" y="352.46" width="8.55" height="7.27" fill="#66ff99"/>
<rect x="104.50" y="352.46" width="8.55" height="7.27" fill="#66ff99"/>
<rect x="112.75" y="352.46" width="8.55" height="7.27" fill="#66ff99"/>
<rect x="121.00" y="352.46" width="8.55" height="7.27" fill="#66ff99"/>
<rect x="129.25" y="352.46" width="8.55" height="7.27" fill="#38ffc7"/>
<rect x="137.50" y="352.46" width="8.55" height="7.27" fill="#66ff99"/>
<rect x="145.75" y="352.46" width="8.55" height="7.27" fill="#b3ff4c"/>
<rect x="154.00" y="352.46" width="8.55" height="7.27" fill="#ff4200"/>
<rect x="162.25" y="352.46" width="8.55" height="7.27" fill="#ff0000"/>
<rect x="170.50" y="352.46" width="8.55" height="7.27" fill="#ff4200"/>
<rect x="178.75" y="352.46" width="11.55" height="7.27" fill="#f0ff0f"/>
<rect x="85.00" y="359.43" width="11.55" height="7.27" fill="#00f0ff"/>
<rect x="96.25" y="359.43" width="8.55" height="7.27" fill="#38ffc7"/>
<rect x="104.50" y="359.43" width="8.55" height="7.27" fill="#00f0ff"/>
<rect x="112.75" y="359.43" width="8.55" height="7.27" fill="#0066ff"/>
<rect x="121.00" y="359.43" width="8.55" height="7.27" fill="#0066ff"/>
<rect x="129.25" y="359.43" width="8.55" height="7.27" fill="#00f0ff"/>
<rect x="137.50" y="359.43" width="8.55" height="7.27" fill="#66ff99"/>
<rect x="145.75" y="359.43" width="8.55" height="7.27" fill="#66ff99"/>
<rect x="154.00" y="359.43" width="8.55" height="7.27" fill="#66ff99"/>
<rect x="162.25" y="359.43" width="8.55" height="7.27" fill="#f0ff0f"/>
<rect x="170.50" y="359.43" width="8.55" height="7.27" fill="#f0ff0f"/>
<rect x="178.75" y="359.43" width="11.55" height="7.27" fill="#ffc700"/>
<rect x="85.00" y="366.41" width="11.55" height="7.27" fill="#66ff99"/>
<rect x="96.25" y="366.41" width="8.55" height="7.27" fill="#66ff99"/>
<rect x="104.50" y="366.41" width="8.55" height="7.27" fill="#66ff99"/>
<rect x="112.75" y="366.41" width="8.55" height="7.27" fill="#66ff99"/>
<rect x="121.00" y="366.41" width="8.55" height="7.27" fill="#66ff99"/>
<rect x="129.25" y="366.41" width="8.55" height="7.27" fill="#66ff99"/>
<rect x="137.50" y="366.41" width="8.55" height="7.27" fill="#66ff99"/>
<rect x="145.75" y="366.41" width="8.55" height="7.27" fill="#66ff99"/>
<rect x="154.00" y="366.41" width="8.55" height="7.27" fill="#b3ff4c"/>
<rect x="162.25" y="366.41" width="8.55" height="7.27" fill="#b3ff4c"/>
<rect x="170.50" y="366.41" width="8.55" height="7.27" fill="#ffc700"/>
<rect x="178.75" y="366.41" width="11.55" height="7.27" fill="#ffc700"/>
<rect x="85.00" y="373.38" width="11.55" height="7.27" fill="#66ff99"/>
<rect x="96.25" y="373.38" width="8.55" height="7.27" fill="#66ff99"/>
<rect x="104.50" y="373.38" width="8.55" height="7.27" fill="#f0ff0f"/>
<rect x="112.75" y="373.38" width="8.55" height="7.27" fill="#f0ff0f"/>
<rect x="121.00" y="373.38" width="8.55" height="7.27" fill="#66ff99"/>
<rect x="129.25" y="373.38" width="8.55" height="7.27" fill="#66ff99"/>
<rect x="137.50" y="373.38" width="8.55" height="7.27" fill="#b3ff4c"/>
<rect x="145.75" y="373.38" width="8.55" height="7.27" fill="#ff0000"/>
<rect x="154.00" y="373.38" width="8.55" height="7.27" fill="#b3ff4c"/>
<rect x="162.25" y="373.38" width="8.55" height="7.27" fill="#f0ff0f"/>
<rect x="170.50" y="373.38" width="8.55" height="7.27" fill="#ffc700"/>
<rect x="178.75" y="373.38" width="11.55" height="7.27" fill="#f0ff0f"/>
<rect x="85.00" y="380.35" width="11.55" height="7.27" fill="#66ff99"/>
<rect x="96.25" y="380.35" width="8.55" height="7.27" fill="#66ff99"/>
<rect x="104.50" y="380.35" width="8.55" height="7.27" fill="#66ff99"/>
<rect x="112.75" y="380.35" width="8.55" height="7.27" fill="#66ff99"/>
<rect x="121.00" y="380.35" width="8.55" height="7.27" fill="#66ff99"/>
<rect x="129.25" y="380.35" width="8.55" height="7.27" fill="#66ff99"/>
<rect x="137.50" y="380.35" width="8.55" height="7.27" fill="#ffc700"/>
<rect x="145.75" y="380.35" width="8.55" height="7.27" fill="#ff4200"/>
<rect x="154.00" y="380.35" width="8.55" height="7.27" fill="#f0ff0f"/>
<rect x="162.25" y="380.35" width="8.55" height="7.27" fill="#ff4200"/>
<rect x="170.50" y="380.35" width="8.55" height="7.27" fill="#ff0000"/>
<rect x="178.75" y="380.35" width="11.55" height="7.27" fill="#f0ff0f"/>
<rect x="85.00" y="387.33" width="11.55" height="10.27" fill="#66ff99"/>
<rect x="96.25" y="387.33" width="8.55" height="10.27" fill="#66ff99"/>
<rect x="104.50" y="387.33" width="8.55" height="10.27" fill="#66ff99"/>
<rect x="112.75" y="387.33" width="8.55" height="10.27" fill="#66ff99"/>
<rect x="121.00" y="387.33" width="8.55" height="10.27" fill="#66ff99"/>
<rect x="129.25" y="387.33" width="8.55" height="10.27" fill="#b3ff4c"/>
<rect x="137.50" y="387.33" width="8.55" height="10.27" fill="#f0ff0f"/>
<rect x="145.75" y="387.33" width="8.55" height="10.27" fill="#f0ff0f"/>
<rect x="154.00" y="387.33" width="8.55" height="10.27" fill="#ff4200"/>
<rect x="162.25" y="387.33" width="8.55" height="10.27" fill="#ff0000"/>
<rect x="170.50" y="387.33" width="8.55" height="10.27" fill="#ff0000"/>
<rect x="178.75" y="387.33" width="11.55" height="10.27" fill="#f0ff0f"/>
</g></g>
<rect x="88" y="213" width="99" height="181.3" fill="none" stroke="#7a8a7a" stroke-width="0.6"/>
<line x1="112.75" y1="213" x2="112.75" y2="214.8" stroke="#333" stroke-width="0.8" />
<line x1="112.75" y1="394.3" x2="112.75" y2="392.5" stroke="#333" stroke-width="0.8" />
<line x1="137.5" y1="213" x2="137.5" y2="214.8" stroke="#333" stroke-width="0.8" />
<line x1="137.5" y1="394.3" x2="137.5" y2="392.5" stroke="#333" stroke-width="0.8" />
<line x1="162.25" y1="213" x2="162.25" y2="214.8" stroke="#333" stroke-width="0.8" />
<line x1="162.25" y1="394.3" x2="162.25" y2="392.5" stroke="#333" stroke-width="0.8" />
<linearGradient id="cb213" x1="0" y1="0" x2="0" y2="1"><stop offset="0.0000" stop-color="#800000"/><stop offset="0.0156" stop-color="#8f0000"/><stop offset="0.0312" stop-color="#9f0000"/><stop offset="0.0469" stop-color="#af0000"/><stop offset="0.0625" stop-color="#bf0000"/><stop offset="0.0781" stop-color="#cf0000"/><stop offset="0.0938" stop-color="#df0000"/><stop offset="0.1094" stop-color="#ef0000"/><stop offset="0.1250" stop-color="#ff0000"/><stop offset="0.1406" stop-color="#ff1000"/><stop offset="0.1562" stop-color="#ff2000"/><stop offset="0.1719" stop-color="#ff3000"/><stop offset="0.1875" stop-color="#ff4000"/><stop offset="0.2031" stop-color="#ff5000"/><stop offset="0.2188" stop-color="#ff6000"/><stop offset="0.2344" stop-color="#ff7000"/><stop offset="0.2500" stop-color="#ff8000"/><stop offset="0.2656" stop-color="#ff8f00"/><stop offset="0.2812" stop-color="#ff9f00"/><stop offset="0.2969" stop-color="#ffaf00"/><stop offset="0.3125" stop-color="#ffbf00"/><stop offset="0.3281" stop-color="#ffcf00"/><stop offset="0.3438" stop-color="#ffdf00"/><stop offset="0.3594" stop-color="#ffef00"/><stop offset="0.3750" stop-color="#ffff00"/><stop offset="0.3906" stop-color="#efff10"/><stop offset="0.4062" stop-color="#dfff20"/><stop offset="0.4219" stop-color="#cfff30"/><stop offset="0.4375" stop-color="#bfff40"/><stop offset="0.4531" stop-color="#afff50"/><stop offset="0.4688" stop-color="#9fff60"/><stop offset="0.4844" stop-color="#8fff70"/><stop offset="0.5000" stop-color="#80ff80"/><stop offset="0.5156" stop-color="#70ff8f"/><stop offset="0.5312" stop-color="#60ff9f"/><stop offset="0.5469" stop-color="#50ffaf"/><stop offset="0.5625" stop-color="#40ffbf"/><stop offset="0.5781" stop-color="#30ffcf"/><stop offset="0.5938" stop-color="#20ffdf"/><stop offset="0.6094" stop-color="#10ffef"/><stop offset="0.6250" stop-color="#00ffff"/><stop offset="0.6406" stop-color="#00efff"/><stop offset="0.6562" stop-color="#00dfff"/><stop offset="0.6719" stop-color="#00cfff"/><stop offset="0.6875" stop-color="#00bfff"/><stop offset="0.7031" stop-color="#00afff"/><stop offset="0.7188" stop-color="#009fff"/><stop offset="0.7344" stop-color="#008fff"/><stop offset="0.7500" stop-color="#0080ff"/><stop offset="0.7656" stop-color="#0070ff"/><stop offset="0.7812" stop-color="#0060ff"/><stop offset="0.7969" stop-color="#0050ff"/><stop offset="0.8125" stop-color="#0040ff"/><stop offset="0.8281" stop-color="#0030ff"/><stop offset="0.8438" stop-color="#0020ff"/><stop offset="0.8594" stop-color="#0010ff"/><stop offset="0.8750" stop-color="#0000ff"/><stop offset="0.8906" stop-color="#0000ef"/><stop offset="0.9062" stop-color="#0000df"/><stop offset="0.9219" stop-color="#0000cf"/><stop offset="0.9375" stop-color="#0000bf"/><stop offset="0.9531" stop-color="#0000af"/><stop offset="0.9688" stop-color="#00009f"/><stop offset="0.9844" stop-color="#00008f"/><stop offset="1.0000" stop-color="#000080"/></linearGradient>
<rect x="199" y="213" width="14.6" height="181.2" fill="url(#cb213)" stroke="#9a9a9a" stroke-width="0.5"/>
<line x1="199" y1="258.3" x2="200.6" y2="258.3" stroke="#333" stroke-width="0.8" />
<line x1="213.6" y1="258.3" x2="212.0" y2="258.3" stroke="#333" stroke-width="0.8" />
<line x1="199" y1="303.6" x2="200.6" y2="303.6" stroke="#333" stroke-width="0.8" />
<line x1="213.6" y1="303.6" x2="212.0" y2="303.6" stroke="#333" stroke-width="0.8" />
<line x1="199" y1="348.9" x2="200.6" y2="348.9" stroke="#333" stroke-width="0.8" />
<line x1="213.6" y1="348.9" x2="212.0" y2="348.9" stroke="#333" stroke-width="0.8" />
<text x="215.79999999999998" y="216.8" font-size="10.4" text-anchor="start" font-weight="bold" fill="#000" >1</text>
<text x="215.79999999999998" y="262.1" font-size="10.4" text-anchor="start" font-weight="bold" fill="#000" >0.5</text>
<text x="215.79999999999998" y="307.40000000000003" font-size="10.4" text-anchor="start" font-weight="bold" fill="#000" >0</text>
<text x="215.79999999999998" y="352.7" font-size="10.4" text-anchor="start" font-weight="bold" fill="#000" >-0.5</text>
<text x="215.79999999999998" y="398.0" font-size="10.4" text-anchor="start" font-weight="bold" fill="#000" >-1</text>
<text x="82.3" y="207" font-size="10.5" font-weight="bold" textLength="112.4" lengthAdjust="spacingAndGlyphs">Correlation coefficient</text>
<text x="88.3" y="405.6" font-size="9.9" text-anchor="middle" font-weight="bold" fill="#000" >-4</text>
<text x="113.05" y="405.6" font-size="9.9" text-anchor="middle" font-weight="bold" fill="#000" >-2</text>
<text x="137.8" y="405.6" font-size="9.9" text-anchor="middle" font-weight="bold" fill="#000" >0</text>
<text x="162.55" y="405.6" font-size="9.9" text-anchor="middle" font-weight="bold" fill="#000" >2</text>
<text x="187.3" y="405.6" font-size="9.9" text-anchor="middle" font-weight="bold" fill="#000" >4</text>
<text x="138.4" y="416.1" font-size="10.2" text-anchor="middle" font-weight="bold" fill="#000" textLength="70.5" lengthAdjust="spacingAndGlyphs">Time offset (s)</text>
<rect x="300.8" y="220.7" width="193.7" height="162.60000000000002" fill="none" stroke="#a2a2a2" stroke-width="1.1"/>
<line x1="300.8" y1="220.7" x2="302.8" y2="220.7" stroke="#a2a2a2" stroke-width="0.8" />
<line x1="494.5" y1="220.7" x2="492.5" y2="220.7" stroke="#a2a2a2" stroke-width="0.8" />
<text x="298.2" y="223.688" font-size="8.3" text-anchor="end" font-weight="bold" fill="#000" >0.35</text>
<line x1="300.8" y1="241.02499999999998" x2="302.8" y2="241.02499999999998" stroke="#a2a2a2" stroke-width="0.8" />
<line x1="494.5" y1="241.02499999999998" x2="492.5" y2="241.02499999999998" stroke="#a2a2a2" stroke-width="0.8" />
<text x="298.2" y="244.01299999999998" font-size="8.3" text-anchor="end" font-weight="bold" fill="#000" >0.3</text>
<line x1="300.8" y1="261.34999999999997" x2="302.8" y2="261.34999999999997" stroke="#a2a2a2" stroke-width="0.8" />
<line x1="494.5" y1="261.34999999999997" x2="492.5" y2="261.34999999999997" stroke="#a2a2a2" stroke-width="0.8" />
<text x="298.2" y="264.33799999999997" font-size="8.3" text-anchor="end" font-weight="bold" fill="#000" >0.25</text>
<line x1="300.8" y1="281.67499999999995" x2="302.8" y2="281.67499999999995" stroke="#a2a2a2" stroke-width="0.8" />
<line x1="494.5" y1="281.67499999999995" x2="492.5" y2="281.67499999999995" stroke="#a2a2a2" stroke-width="0.8" />
<text x="298.2" y="284.66299999999995" font-size="8.3" text-anchor="end" font-weight="bold" fill="#000" >0.2</text>
<line x1="300.8" y1="302.0" x2="302.8" y2="302.0" stroke="#a2a2a2" stroke-width="0.8" />
<line x1="494.5" y1="302.0" x2="492.5" y2="302.0" stroke="#a2a2a2" stroke-width="0.8" />
<text x="298.2" y="304.988" font-size="8.3" text-anchor="end" font-weight="bold" fill="#000" >0.15</text>
<line x1="300.8" y1="322.325" x2="302.8" y2="322.325" stroke="#a2a2a2" stroke-width="0.8" />
<line x1="494.5" y1="322.325" x2="492.5" y2="322.325" stroke="#a2a2a2" stroke-width="0.8" />
<text x="298.2" y="325.313" font-size="8.3" text-anchor="end" font-weight="bold" fill="#000" >0.1</text>
<line x1="300.8" y1="342.65000000000003" x2="302.8" y2="342.65000000000003" stroke="#a2a2a2" stroke-width="0.8" />
<line x1="494.5" y1="342.65000000000003" x2="492.5" y2="342.65000000000003" stroke="#a2a2a2" stroke-width="0.8" />
<text x="298.2" y="345.63800000000003" font-size="8.3" text-anchor="end" font-weight="bold" fill="#000" >0.05</text>
<line x1="300.8" y1="362.975" x2="302.8" y2="362.975" stroke="#a2a2a2" stroke-width="0.8" />
<line x1="494.5" y1="362.975" x2="492.5" y2="362.975" stroke="#a2a2a2" stroke-width="0.8" />
<text x="298.2" y="365.963" font-size="8.3" text-anchor="end" font-weight="bold" fill="#000" >0</text>
<line x1="300.8" y1="383.3" x2="302.8" y2="383.3" stroke="#a2a2a2" stroke-width="0.8" />
<line x1="494.5" y1="383.3" x2="492.5" y2="383.3" stroke="#a2a2a2" stroke-width="0.8" />
<text x="298.2" y="386.288" font-size="8.3" text-anchor="end" font-weight="bold" fill="#000" >-0.05</text>
<line x1="300.8" y1="383.3" x2="300.8" y2="381.3" stroke="#a2a2a2" stroke-width="0.8" />
<line x1="300.8" y1="220.7" x2="300.8" y2="222.7" stroke="#a2a2a2" stroke-width="0.8" />
<text x="299.6" y="393" font-size="8.3" text-anchor="middle" font-weight="bold" fill="#000" >-4</text>
<line x1="349.225" y1="383.3" x2="349.225" y2="381.3" stroke="#a2a2a2" stroke-width="0.8" />
<line x1="349.225" y1="220.7" x2="349.225" y2="222.7" stroke="#a2a2a2" stroke-width="0.8" />
<text x="348.02500000000003" y="393" font-size="8.3" text-anchor="middle" font-weight="bold" fill="#000" >-2</text>
<line x1="397.65" y1="383.3" x2="397.65" y2="381.3" stroke="#a2a2a2" stroke-width="0.8" />
<line x1="397.65" y1="220.7" x2="397.65" y2="222.7" stroke="#a2a2a2" stroke-width="0.8" />
<text x="396.45" y="393" font-size="8.3" text-anchor="middle" font-weight="bold" fill="#000" >0</text>
<line x1="446.075" y1="383.3" x2="446.075" y2="381.3" stroke="#a2a2a2" stroke-width="0.8" />
<line x1="446.075" y1="220.7" x2="446.075" y2="222.7" stroke="#a2a2a2" stroke-width="0.8" />
<text x="444.875" y="393" font-size="8.3" text-anchor="middle" font-weight="bold" fill="#000" >2</text>
<line x1="494.5" y1="383.3" x2="494.5" y2="381.3" stroke="#a2a2a2" stroke-width="0.8" />
<line x1="494.5" y1="220.7" x2="494.5" y2="222.7" stroke="#a2a2a2" stroke-width="0.8" />
<text x="493.3" y="393" font-size="8.3" text-anchor="middle" font-weight="bold" fill="#000" >4</text>
<text x="397.2" y="403.1" font-size="8.6" text-anchor="middle" font-weight="bold" fill="#000" textLength="56" lengthAdjust="spacingAndGlyphs">Time offset (s)</text>
<text transform="translate(275.6,301) rotate(-90)" font-size="8.7" text-anchor="middle" font-weight="bold" textLength="93.5" lengthAdjust="spacingAndGlyphs">Correlation coefficient</text>
<line x1="421.8625" y1="220.7" x2="421.8625" y2="383.3" stroke="#a0a0a0" stroke-width="1.6" />
<line x1="397.65" y1="220.7" x2="397.65" y2="383.3" stroke="#000" stroke-width="1.7" stroke-dasharray="8.5,5.9"/>
<path d="M300.70,368.90 C301.37,369.47 303.13,371.07 304.70,372.30 C306.27,373.53 308.30,375.28 310.10,376.30 C311.90,377.32 313.93,378.05 315.50,378.40 C317.07,378.75 318.15,378.85 319.50,378.40 C320.85,377.95 322.02,377.05 323.60,375.70 C325.18,374.35 327.22,372.43 329.00,370.30 C330.78,368.17 332.52,365.25 334.30,362.90 C336.08,360.55 338.12,357.82 339.70,356.20 C341.28,354.58 342.45,353.65 343.80,353.20 C345.15,352.75 346.23,352.90 347.80,353.50 C349.37,354.10 351.40,354.90 353.20,356.80 C355.00,358.70 356.82,362.07 358.60,364.90 C360.38,367.73 362.23,371.40 363.90,373.80 C365.57,376.20 367.17,378.20 368.60,379.30 C370.03,380.40 370.93,381.05 372.50,380.40 C374.07,379.75 376.17,379.37 378.00,375.40 C379.83,371.43 382.07,362.62 383.50,356.60 C384.93,350.58 385.55,345.57 386.60,339.30 C387.65,333.03 388.88,325.52 389.80,319.00 C390.72,312.48 391.32,306.73 392.10,300.20 C392.88,293.67 393.85,285.82 394.50,279.80 C395.15,273.78 395.50,269.70 396.00,264.10 C396.50,258.50 397.25,249.18 397.50,246.20 M397.50,246.20 C397.95,245.52 399.08,243.65 400.20,242.10 C401.32,240.55 402.77,238.53 404.20,236.90 C405.63,235.27 407.25,233.73 408.80,232.30 C410.35,230.87 411.95,229.65 413.50,228.30 C415.05,226.95 416.67,225.37 418.10,224.20 C419.53,223.03 420.75,221.58 422.10,221.30 C423.45,221.02 424.95,221.72 426.20,222.50 C427.45,223.28 428.20,224.33 429.60,226.00 C431.00,227.67 432.90,230.45 434.60,232.50 C436.30,234.55 438.07,236.77 439.80,238.30 C441.53,239.83 443.37,240.55 445.00,241.70 C446.63,242.85 448.15,243.85 449.60,245.20 C451.05,246.55 452.35,247.97 453.70,249.80 C455.05,251.63 456.45,253.98 457.70,256.20 C458.95,258.42 460.05,260.60 461.20,263.10 C462.35,265.60 463.60,268.45 464.60,271.20 C465.60,273.95 466.33,276.65 467.20,279.60 C468.07,282.55 468.87,285.70 469.80,288.90 C470.73,292.10 471.82,295.52 472.80,298.80 C473.78,302.08 474.72,305.15 475.70,308.60 C476.68,312.05 477.70,316.20 478.70,319.50 C479.70,322.80 480.63,325.43 481.70,328.40 C482.77,331.37 483.95,334.50 485.10,337.30 C486.25,340.10 487.53,342.73 488.60,345.20 C489.67,347.67 490.52,349.97 491.50,352.10 C492.48,354.23 494.00,357.02 494.50,358.00" fill="none" stroke="#000" stroke-width="3.0" stroke-linejoin="round" stroke-linecap="round"/>
<text x="414.3" y="215.3" font-size="10" fill="#1a1a1a" textLength="20.4" lengthAdjust="spacingAndGlyphs">1.0 s</text>
<text x="5.3" y="439.4" font-size="13" font-weight="bold">C</text>
<line x1="50.5" y1="443.4" x2="50.5" y2="569.5" stroke="#000" stroke-width="1.2" />
<line x1="49.9" y1="568.9" x2="229.1" y2="568.9" stroke="#000" stroke-width="1.2" />
<line x1="50.5" y1="543.8" x2="52.5" y2="543.8" stroke="#000" stroke-width="1" />
<line x1="50.5" y1="518.6999999999999" x2="52.5" y2="518.6999999999999" stroke="#000" stroke-width="1" />
<line x1="50.5" y1="493.59999999999997" x2="52.5" y2="493.59999999999997" stroke="#000" stroke-width="1" />
<line x1="50.5" y1="468.5" x2="52.5" y2="468.5" stroke="#000" stroke-width="1" />
<line x1="50.5" y1="443.4" x2="52.5" y2="443.4" stroke="#000" stroke-width="1" />
<line x1="80.18333333333334" y1="568.9" x2="80.18333333333334" y2="566.9" stroke="#000" stroke-width="1" />
<line x1="109.86666666666667" y1="568.9" x2="109.86666666666667" y2="566.9" stroke="#000" stroke-width="1" />
<line x1="139.55" y1="568.9" x2="139.55" y2="566.9" stroke="#000" stroke-width="1" />
<line x1="169.23333333333335" y1="568.9" x2="169.23333333333335" y2="566.9" stroke="#000" stroke-width="1" />
<line x1="198.91666666666666" y1="568.9" x2="198.91666666666666" y2="566.9" stroke="#000" stroke-width="1" />
<line x1="228.6" y1="568.9" x2="228.6" y2="566.9" stroke="#000" stroke-width="1" />
<polyline points="50.7,521.0 53.9,535.8 57.5,529.4 61.3,533.7 65.3,550.6 69.1,527.7 72.9,553.1 76.5,540.0 80.8,546.4 84.4,558.0 88.2,552.7 91.8,529.4 95.2,517.8 98.8,539.0 103.0,525.8 106.6,548.5 110.4,448.0 112.5,446.0 114.2,443.1 117.8,532.6 121.6,495.6 125.6,537.9 129.4,542.1 133.2,536.7 136.3,523.4 140.2,516.4 143.8,528.7 148.0,532.9 151.6,562.9 155.4,539.2 159.2,536.7 163.2,551.5 167.0,540.3 170.6,536.1 174.4,525.5 178.2,535.0 181.8,517.7 185.6,545.2 189.2,530.8 193.5,549.4 197.3,549.8 200.9,529.7 204.5,524.4 208.3,510.3 212.1,528.2 215.7,553.0 219.5,560.0 223.1,524.8 226.9,530.3 229.0,521.3" fill="none" stroke="#000" stroke-width="1.05" stroke-linejoin="round" stroke-linecap="round" />
<line x1="112.9" y1="445.79999999999995" x2="112.9" y2="568.9" stroke="#000" stroke-width="1.6" stroke-dasharray="7.6,4.3"/>
<text x="45.1" y="571.9" font-size="8.4" text-anchor="end" font-weight="bold" fill="#000" >0</text>
<text x="45.1" y="546.8" font-size="8.4" text-anchor="end" font-weight="bold" fill="#000" >0.2</text>
<text x="45.1" y="521.6999999999999" font-size="8.4" text-anchor="end" font-weight="bold" fill="#000" >0.4</text>
<text x="45.1" y="496.59999999999997" font-size="8.4" text-anchor="end" font-weight="bold" fill="#000" >0.6</text>
<text x="45.1" y="471.5" font-size="8.4" text-anchor="end" font-weight="bold" fill="#000" >0.8</text>
<text x="45.1" y="446.4" font-size="8.4" text-anchor="end" font-weight="bold" fill="#000" >1.0</text>
<text x="48.7" y="579.7" font-size="8.4" text-anchor="middle" font-weight="bold" fill="#000" >0</text>
<text x="78.38333333333334" y="579.7" font-size="8.4" text-anchor="middle" font-weight="bold" fill="#000" >0.1</text>
<text x="108.06666666666668" y="579.7" font-size="8.4" text-anchor="middle" font-weight="bold" fill="#000" >0.2</text>
<text x="137.75" y="579.7" font-size="8.4" text-anchor="middle" font-weight="bold" fill="#000" >0.3</text>
<text x="167.43333333333334" y="579.7" font-size="8.4" text-anchor="middle" font-weight="bold" fill="#000" >0.4</text>
<text x="197.11666666666665" y="579.7" font-size="8.4" text-anchor="middle" font-weight="bold" fill="#000" >0.5</text>
<text x="226.79999999999998" y="579.7" font-size="8.4" text-anchor="middle" font-weight="bold" fill="#000" >0.6</text>
<text x="139.55" y="588.7" font-size="8.9" text-anchor="middle" font-weight="bold" fill="#000" textLength="63" lengthAdjust="spacingAndGlyphs">Frequency (Hz)</text>
<line x1="47.5" y1="597.9" x2="228.8" y2="597.9" stroke="#000" stroke-width="2.0" />
<rect x="46.4" y="594.7" width="3.2" height="3.2" fill="#000"/>
<rect x="76.5" y="594.7" width="3.2" height="3.2" fill="#000"/>
<rect x="106.5" y="594.7" width="3.2" height="3.2" fill="#000"/>
<rect x="136.6" y="594.7" width="3.2" height="3.2" fill="#000"/>
<rect x="166.6" y="594.7" width="3.2" height="3.2" fill="#000"/>
<rect x="196.7" y="594.7" width="3.2" height="3.2" fill="#000"/>
<rect x="226.7" y="594.7" width="3.2" height="3.2" fill="#000"/>
<text x="78.05" y="606" font-size="8.4" text-anchor="middle" font-weight="bold" fill="#000" >10</text>
<text x="108.1" y="606" font-size="8.4" text-anchor="middle" font-weight="bold" fill="#000" >5</text>
<text x="138.15000000000003" y="606" font-size="8.4" text-anchor="middle" font-weight="bold" fill="#000" >3.3</text>
<text x="168.2" y="606" font-size="8.4" text-anchor="middle" font-weight="bold" fill="#000" >2.5</text>
<text x="198.25" y="606" font-size="8.4" text-anchor="middle" font-weight="bold" fill="#000" >2</text>
<text x="228.30000000000004" y="606" font-size="8.4" text-anchor="middle" font-weight="bold" fill="#000" >1.7</text>
<text x="139.55" y="614.9" font-size="8.8" text-anchor="middle" font-weight="bold" fill="#000" textLength="38.6" lengthAdjust="spacingAndGlyphs">Period (s)</text>
<text transform="translate(29.4,506.2) rotate(-90)" x="0" y="0" font-size="9.6" text-anchor="middle" font-weight="bold" textLength="156.5" lengthAdjust="spacingAndGlyphs">Normalized Power Spectral Density</text>
<text x="133" y="454.2" font-size="9.6" font-weight="bold" textLength="69.3" lengthAdjust="spacingAndGlyphs">Front (100 kPa)</text>
<line x1="318.6" y1="444.5" x2="318.6" y2="572.1" stroke="#000" stroke-width="1.2" />
<line x1="318.0" y1="571.5" x2="500.3" y2="571.5" stroke="#000" stroke-width="1.2" />
<line x1="318.6" y1="546.1" x2="320.6" y2="546.1" stroke="#000" stroke-width="1" />
<line x1="318.6" y1="520.7" x2="320.6" y2="520.7" stroke="#000" stroke-width="1" />
<line x1="318.6" y1="495.3" x2="320.6" y2="495.3" stroke="#000" stroke-width="1" />
<line x1="318.6" y1="469.9" x2="320.6" y2="469.9" stroke="#000" stroke-width="1" />
<line x1="318.6" y1="444.5" x2="320.6" y2="444.5" stroke="#000" stroke-width="1" />
<line x1="348.8" y1="571.5" x2="348.8" y2="569.5" stroke="#000" stroke-width="1" />
<line x1="379.0" y1="571.5" x2="379.0" y2="569.5" stroke="#000" stroke-width="1" />
<line x1="409.2" y1="571.5" x2="409.2" y2="569.5" stroke="#000" stroke-width="1" />
<line x1="439.40000000000003" y1="571.5" x2="439.40000000000003" y2="569.5" stroke="#000" stroke-width="1" />
<line x1="469.6" y1="571.5" x2="469.6" y2="569.5" stroke="#000" stroke-width="1" />
<line x1="499.79999999999995" y1="571.5" x2="499.79999999999995" y2="569.5" stroke="#000" stroke-width="1" />
<polyline points="318.6,565.4 319.5,545.9 321.6,533.7 325.4,537.9 329.2,501.9 332.8,514.6 337.0,510.0 340.6,517.8 344.4,519.3 348.2,530.5 352.5,551.6 356.1,544.2 360.3,537.9 363.5,514.2 367.7,534.7 371.5,545.9 375.1,535.4 379.3,444.4 381.4,453.3 383.1,460.7 386.7,562.2 391.0,510.4 394.8,550.2 398.4,556.9 402.6,550.6 406.7,547.3 410.0,541.9 413.8,511.2 417.7,553.1 421.5,547.7 425.4,558.8 429.2,548.3 433.1,561.2 436.5,542.5 440.4,545.0 444.2,543.1 448.1,541.2 452.2,550.6 456.4,539.0 459.8,552.2 463.7,527.6 467.5,562.2 471.3,557.6 475.3,559.2 479.3,551.8 483.4,553.8 486.6,555.5 490.6,546.0 494.4,551.1 498.5,562.3 500.9,546.0" fill="none" stroke="#000" stroke-width="1.05" stroke-linejoin="round" stroke-linecap="round" />
<line x1="380.5" y1="446.9" x2="380.5" y2="571.5" stroke="#000" stroke-width="1.6" stroke-dasharray="7.6,4.3"/>
<text x="315.40000000000003" y="574.5" font-size="8.4" text-anchor="end" font-weight="bold" fill="#000" >0</text>
<text x="315.40000000000003" y="549.1" font-size="8.4" text-anchor="end" font-weight="bold" fill="#000" >0.2</text>
<text x="315.40000000000003" y="523.7" font-size="8.4" text-anchor="end" font-weight="bold" fill="#000" >0.4</text>
<text x="315.40000000000003" y="498.3" font-size="8.4" text-anchor="end" font-weight="bold" fill="#000" >0.6</text>
<text x="315.40000000000003" y="472.9" font-size="8.4" text-anchor="end" font-weight="bold" fill="#000" >0.8</text>
<text x="315.40000000000003" y="447.5" font-size="8.4" text-anchor="end" font-weight="bold" fill="#000" >1.0</text>
<text x="318.3" y="580" font-size="8.4" text-anchor="middle" font-weight="bold" fill="#000" >0</text>
<text x="348.5" y="580" font-size="8.4" text-anchor="middle" font-weight="bold" fill="#000" >0.1</text>
<text x="378.7" y="580" font-size="8.4" text-anchor="middle" font-weight="bold" fill="#000" >0.2</text>
<text x="408.9" y="580" font-size="8.4" text-anchor="middle" font-weight="bold" fill="#000" >0.3</text>
<text x="439.1" y="580" font-size="8.4" text-anchor="middle" font-weight="bold" fill="#000" >0.4</text>
<text x="469.3" y="580" font-size="8.4" text-anchor="middle" font-weight="bold" fill="#000" >0.5</text>
<text x="499.49999999999994" y="580" font-size="8.4" text-anchor="middle" font-weight="bold" fill="#000" >0.6</text>
<text x="409.20000000000005" y="589" font-size="8.9" text-anchor="middle" font-weight="bold" fill="#000" textLength="63" lengthAdjust="spacingAndGlyphs">Frequency (Hz)</text>
<line x1="316.9" y1="597.7" x2="499.1" y2="597.7" stroke="#000" stroke-width="2.0" />
<rect x="315.8" y="594.5" width="3.2" height="3.2" fill="#000"/>
<rect x="346.0" y="594.5" width="3.2" height="3.2" fill="#000"/>
<rect x="376.2" y="594.5" width="3.2" height="3.2" fill="#000"/>
<rect x="406.4" y="594.5" width="3.2" height="3.2" fill="#000"/>
<rect x="436.6" y="594.5" width="3.2" height="3.2" fill="#000"/>
<rect x="466.8" y="594.5" width="3.2" height="3.2" fill="#000"/>
<rect x="497.0" y="594.5" width="3.2" height="3.2" fill="#000"/>
<text x="347.59999999999997" y="606" font-size="8.4" text-anchor="middle" font-weight="bold" fill="#000" >10</text>
<text x="377.8" y="606" font-size="8.4" text-anchor="middle" font-weight="bold" fill="#000" >5</text>
<text x="408.0" y="606" font-size="8.4" text-anchor="middle" font-weight="bold" fill="#000" >3.3</text>
<text x="438.2" y="606" font-size="8.4" text-anchor="middle" font-weight="bold" fill="#000" >2.5</text>
<text x="468.4" y="606" font-size="8.4" text-anchor="middle" font-weight="bold" fill="#000" >2</text>
<text x="498.6" y="606" font-size="8.4" text-anchor="middle" font-weight="bold" fill="#000" >1.7</text>
<text x="409.20000000000005" y="614.9" font-size="8.8" text-anchor="middle" font-weight="bold" fill="#000" textLength="38.6" lengthAdjust="spacingAndGlyphs">Period (s)</text>
<text transform="translate(299,505.2) rotate(-90)" x="0" y="0" font-size="9.6" text-anchor="middle" font-weight="bold" textLength="155.5" lengthAdjust="spacingAndGlyphs">Normalized Power Spectral Density</text>
<text x="403" y="454.2" font-size="9.6" font-weight="bold" textLength="69" lengthAdjust="spacingAndGlyphs">Back (100 kPa)</text>
<text x="4.9" y="646.4" font-size="12.8" font-weight="bold">D</text>
<rect x="31.8" y="649.4" width="6.2" height="23.2" fill="#000"/>
<text transform="translate(30.2,661.0) rotate(-90)" font-size="9" text-anchor="middle" textLength="16.4" lengthAdjust="spacingAndGlyphs">24 s</text>
<rect x="69.1" y="653.6" width="6.8" height="62.60000000000002" fill="#000"/>
<rect x="69.1" y="719.2" width="6.8" height="62.59999999999991" fill="#000"/>
<rect x="69.1" y="784.3" width="6.8" height="50.5" fill="#000"/>
<text transform="translate(58.6,688) rotate(-90)" font-size="10.6" text-anchor="middle" font-weight="bold" textLength="33.5" lengthAdjust="spacingAndGlyphs">Cell #1</text>
<text transform="translate(58.6,752.7) rotate(-90)" font-size="10.6" text-anchor="middle" font-weight="bold" textLength="33.5" lengthAdjust="spacingAndGlyphs">Cell #2</text>
<text transform="translate(58.6,812) rotate(-90)" font-size="10.6" text-anchor="middle" font-weight="bold" textLength="33.5" lengthAdjust="spacingAndGlyphs">Cell #3</text>
<clipPath id="clipD"><rect x="82.5" y="652.7" width="100.2" height="182.9"/></clipPath>
<g clip-path="url(#clipD)"><g filter="url(#blur)">
<rect x="79.50" y="649.70" width="11.65" height="9.20" fill="#66ff99"/>
<rect x="90.85" y="649.70" width="8.65" height="9.20" fill="#66ff99"/>
<rect x="99.20" y="649.70" width="8.65" height="9.20" fill="#66ff99"/>
<rect x="107.55" y="649.70" width="8.65" height="9.20" fill="#ffc700"/>
<rect x="115.90" y="649.70" width="8.65" height="9.20" fill="#ff8000"/>
<rect x="124.25" y="649.70" width="8.65" height="9.20" fill="#ff8000"/>
<rect x="132.60" y="649.70" width="8.65" height="9.20" fill="#bd0000"/>
<rect x="140.95" y="649.70" width="8.65" height="9.20" fill="#bd0000"/>
<rect x="149.30" y="649.70" width="8.65" height="9.20" fill="#ff4200"/>
<rect x="157.65" y="649.70" width="8.65" height="9.20" fill="#f0ff0f"/>
<rect x="166.00" y="649.70" width="8.65" height="9.20" fill="#66ff99"/>
<rect x="174.35" y="649.70" width="11.65" height="9.20" fill="#66ff99"/>
<rect x="79.50" y="658.60" width="11.65" height="6.20" fill="#66ff99"/>
<rect x="90.85" y="658.60" width="8.65" height="6.20" fill="#00f0ff"/>
<rect x="99.20" y="658.60" width="8.65" height="6.20" fill="#00f0ff"/>
<rect x="107.55" y="658.60" width="8.65" height="6.20" fill="#00f0ff"/>
<rect x="115.90" y="658.60" width="8.65" height="6.20" fill="#00f0ff"/>
<rect x="124.25" y="658.60" width="8.65" height="6.20" fill="#00f0ff"/>
<rect x="132.60" y="658.60" width="8.65" height="6.20" fill="#ff0000"/>
<rect x="140.95" y="658.60" width="8.65" height="6.20" fill="#ff0000"/>
<rect x="149.30" y="658.60" width="8.65" height="6.20" fill="#f0ff0f"/>
<rect x="157.65" y="658.60" width="8.65" height="6.20" fill="#0066ff"/>
<rect x="166.00" y="658.60" width="8.65" height="6.20" fill="#66ff99"/>
<rect x="174.35" y="658.60" width="11.65" height="6.20" fill="#66ff99"/>
<rect x="79.50" y="664.50" width="11.65" height="6.20" fill="#66ff99"/>
<rect x="90.85" y="664.50" width="8.65" height="6.20" fill="#00f0ff"/>
<rect x="99.20" y="664.50" width="8.65" height="6.20" fill="#66ff99"/>
<rect x="107.55" y="664.50" width="8.65" height="6.20" fill="#ffc700"/>
<rect x="115.90" y="664.50" width="8.65" height="6.20" fill="#0066ff"/>
<rect x="124.25" y="664.50" width="8.65" height="6.20" fill="#00f0ff"/>
<rect x="132.60" y="664.50" width="8.65" height="6.20" fill="#f0ff0f"/>
<rect x="140.95" y="664.50" width="8.65" height="6.20" fill="#f0ff0f"/>
<rect x="149.30" y="664.50" width="8.65" height="6.20" fill="#66ff99"/>
<rect x="157.65" y="664.50" width="8.65" height="6.20" fill="#66ff99"/>
<rect x="166.00" y="664.50" width="8.65" height="6.20" fill="#00f0ff"/>
<rect x="174.35" y="664.50" width="11.65" height="6.20" fill="#66ff99"/>
<rect x="79.50" y="670.40" width="11.65" height="6.20" fill="#66ff99"/>
<rect x="90.85" y="670.40" width="8.65" height="6.20" fill="#66ff99"/>
<rect x="99.20" y="670.40" width="8.65" height="6.20" fill="#66ff99"/>
<rect x="107.55" y="670.40" width="8.65" height="6.20" fill="#66ff99"/>
<rect x="115.90" y="670.40" width="8.65" height="6.20" fill="#00f0ff"/>
<rect x="124.25" y="670.40" width="8.65" height="6.20" fill="#00f0ff"/>
<rect x="132.60" y="670.40" width="8.65" height="6.20" fill="#b3ff4c"/>
<rect x="140.95" y="670.40" width="8.65" height="6.20" fill="#ff0000"/>
<rect x="149.30" y="670.40" width="8.65" height="6.20" fill="#ff0000"/>
<rect x="157.65" y="670.40" width="8.65" height="6.20" fill="#f0ff0f"/>
<rect x="166.00" y="670.40" width="8.65" height="6.20" fill="#66ff99"/>
<rect x="174.35" y="670.40" width="11.65" height="6.20" fill="#66ff99"/>
<rect x="79.50" y="676.30" width="11.65" height="6.20" fill="#66ff99"/>
<rect x="90.85" y="676.30" width="8.65" height="6.20" fill="#66ff99"/>
<rect x="99.20" y="676.30" width="8.65" height="6.20" fill="#66ff99"/>
<rect x="107.55" y="676.30" width="8.65" height="6.20" fill="#00f0ff"/>
<rect x="115.90" y="676.30" width="8.65" height="6.20" fill="#66ff99"/>
<rect x="124.25" y="676.30" width="8.65" height="6.20" fill="#66ff99"/>
<rect x="132.60" y="676.30" width="8.65" height="6.20" fill="#ff4200"/>
<rect x="140.95" y="676.30" width="8.65" height="6.20" fill="#ff0000"/>
<rect x="149.30" y="676.30" width="8.65" height="6.20" fill="#f0ff0f"/>
<rect x="157.65" y="676.30" width="8.65" height="6.20" fill="#66ff99"/>
<rect x="166.00" y="676.30" width="8.65" height="6.20" fill="#00f0ff"/>
<rect x="174.35" y="676.30" width="11.65" height="6.20" fill="#66ff99"/>
<rect x="79.50" y="682.20" width="11.65" height="6.20" fill="#66ff99"/>
<rect x="90.85" y="682.20" width="8.65" height="6.20" fill="#ffc700"/>
<rect x="99.20" y="682.20" width="8.65" height="6.20" fill="#00f0ff"/>
<rect x="107.55" y="682.20" width="8.65" height="6.20" fill="#66ff99"/>
<rect x="115.90" y="682.20" width="8.65" height="6.20" fill="#66ff99"/>
<rect x="124.25" y="682.20" width="8.65" height="6.20" fill="#66ff99"/>
<rect x="132.60" y="682.20" width="8.65" height="6.20" fill="#f0ff0f"/>
<rect x="140.95" y="682.20" width="8.65" height="6.20" fill="#f0ff0f"/>
<rect x="149.30" y="682.20" width="8.65" height="6.20" fill="#f0ff0f"/>
<rect x="157.65" y="682.20" width="8.65" height="6.20" fill="#66ff99"/>
<rect x="166.00" y="682.20" width="8.65" height="6.20" fill="#66ff99"/>
<rect x="174.35" y="682.20" width="11.65" height="6.20" fill="#66ff99"/>
<rect x="79.50" y="688.10" width="11.65" height="6.20" fill="#00f0ff"/>
<rect x="90.85" y="688.10" width="8.65" height="6.20" fill="#0000e5"/>
<rect x="99.20" y="688.10" width="8.65" height="6.20" fill="#000080"/>
<rect x="107.55" y="688.10" width="8.65" height="6.20" fill="#000080"/>
<rect x="115.90" y="688.10" width="8.65" height="6.20" fill="#0000e5"/>
<rect x="124.25" y="688.10" width="8.65" height="6.20" fill="#00f0ff"/>
<rect x="132.60" y="688.10" width="8.65" height="6.20" fill="#f0ff0f"/>
<rect x="140.95" y="688.10" width="8.65" height="6.20" fill="#f0ff0f"/>
<rect x="149.30" y="688.10" width="8.65" height="6.20" fill="#f0ff0f"/>
<rect x="157.65" y="688.10" width="8.65" height="6.20" fill="#b3ff4c"/>
<rect x="166.00" y="688.10" width="8.65" height="6.20" fill="#66ff99"/>
<rect x="174.35" y="688.10" width="11.65" height="6.20" fill="#66ff99"/>
<rect x="79.50" y="694.00" width="11.65" height="6.20" fill="#66ff99"/>
<rect x="90.85" y="694.00" width="8.65" height="6.20" fill="#66ff99"/>
<rect x="99.20" y="694.00" width="8.65" height="6.20" fill="#66ff99"/>
<rect x="107.55" y="694.00" width="8.65" height="6.20" fill="#66ff99"/>
<rect x="115.90" y="694.00" width="8.65" height="6.20" fill="#b3ff4c"/>
<rect x="124.25" y="694.00" width="8.65" height="6.20" fill="#b3ff4c"/>
<rect x="132.60" y="694.00" width="8.65" height="6.20" fill="#ff0000"/>
<rect x="140.95" y="694.00" width="8.65" height="6.20" fill="#bd0000"/>
<rect x="149.30" y="694.00" width="8.65" height="6.20" fill="#b3ff4c"/>
<rect x="157.65" y="694.00" width="8.65" height="6.20" fill="#00f0ff"/>
<rect x="166.00" y="694.00" width="8.65" height="6.20" fill="#66ff99"/>
<rect x="174.35" y="694.00" width="11.65" height="6.20" fill="#66ff99"/>
<rect x="79.50" y="699.90" width="11.65" height="6.20" fill="#b3ff4c"/>
<rect x="90.85" y="699.90" width="8.65" height="6.20" fill="#00f0ff"/>
<rect x="99.20" y="699.90" width="8.65" height="6.20" fill="#0066ff"/>
<rect x="107.55" y="699.90" width="8.65" height="6.20" fill="#0066ff"/>
<rect x="115.90" y="699.90" width="8.65" height="6.20" fill="#00f0ff"/>
<rect x="124.25" y="699.90" width="8.65" height="6.20" fill="#f0ff0f"/>
<rect x="132.60" y="699.90" width="8.65" height="6.20" fill="#ff4200"/>
<rect x="140.95" y="699.90" width="8.65" height="6.20" fill="#ff0000"/>
<rect x="149.30" y="699.90" width="8.65" height="6.20" fill="#b3ff4c"/>
<rect x="157.65" y="699.90" width="8.65" height="6.20" fill="#66ff99"/>
<rect x="166.00" y="699.90" width="8.65" height="6.20" fill="#66ff99"/>
<rect x="174.35" y="699.90" width="11.65" height="6.20" fill="#66ff99"/>
<rect x="79.50" y="705.80" width="11.65" height="6.20" fill="#00f0ff"/>
<rect x="90.85" y="705.80" width="8.65" height="6.20" fill="#0000e5"/>
<rect x="99.20" y="705.80" width="8.65" height="6.20" fill="#0000e5"/>
<rect x="107.55" y="705.80" width="8.65" height="6.20" fill="#0000e5"/>
<rect x="115.90" y="705.80" width="8.65" height="6.20" fill="#66ff99"/>
<rect x="124.25" y="705.80" width="8.65" height="6.20" fill="#ffc700"/>
<rect x="132.60" y="705.80" width="8.65" height="6.20" fill="#ff8000"/>
<rect x="140.95" y="705.80" width="8.65" height="6.20" fill="#f0ff0f"/>
<rect x="149.30" y="705.80" width="8.65" height="6.20" fill="#66ff99"/>
<rect x="157.65" y="705.80" width="8.65" height="6.20" fill="#66ff99"/>
<rect x="166.00" y="705.80" width="8.65" height="6.20" fill="#66ff99"/>
<rect x="174.35" y="705.80" width="11.65" height="6.20" fill="#66ff99"/>
<rect x="79.50" y="711.70" width="11.65" height="6.20" fill="#66ff99"/>
<rect x="90.85" y="711.70" width="8.65" height="6.20" fill="#66ff99"/>
<rect x="99.20" y="711.70" width="8.65" height="6.20" fill="#66ff99"/>
<rect x="107.55" y="711.70" width="8.65" height="6.20" fill="#66ff99"/>
<rect x="115.90" y="711.70" width="8.65" height="6.20" fill="#0066ff"/>
<rect x="124.25" y="711.70" width="8.65" height="6.20" fill="#00f0ff"/>
<rect x="132.60" y="711.70" width="8.65" height="6.20" fill="#ff8000"/>
<rect x="140.95" y="711.70" width="8.65" height="6.20" fill="#00f0ff"/>
<rect x="149.30" y="711.70" width="8.65" height="6.20" fill="#0000e5"/>
<rect x="157.65" y="711.70" width="8.65" height="6.20" fill="#66ff99"/>
<rect x="166.00" y="711.70" width="8.65" height="6.20" fill="#f0ff0f"/>
<rect x="174.35" y="711.70" width="11.65" height="6.20" fill="#66ff99"/>
<rect x="79.50" y="717.60" width="11.65" height="6.20" fill="#f0ff0f"/>
<rect x="90.85" y="717.60" width="8.65" height="6.20" fill="#66ff99"/>
<rect x="99.20" y="717.60" width="8.65" height="6.20" fill="#00f0ff"/>
<rect x="107.55" y="717.60" width="8.65" height="6.20" fill="#00f0ff"/>
<rect x="115.90" y="717.60" width="8.65" height="6.20" fill="#00f0ff"/>
<rect x="124.25" y="717.60" width="8.65" height="6.20" fill="#ffc700"/>
<rect x="132.60" y="717.60" width="8.65" height="6.20" fill="#66ff99"/>
<rect x="140.95" y="717.60" width="8.65" height="6.20" fill="#66ff99"/>
<rect x="149.30" y="717.60" width="8.65" height="6.20" fill="#b3ff4c"/>
<rect x="157.65" y="717.60" width="8.65" height="6.20" fill="#66ff99"/>
<rect x="166.00" y="717.60" width="8.65" height="6.20" fill="#66ff99"/>
<rect x="174.35" y="717.60" width="11.65" height="6.20" fill="#66ff99"/>
<rect x="79.50" y="723.50" width="11.65" height="6.20" fill="#00f0ff"/>
<rect x="90.85" y="723.50" width="8.65" height="6.20" fill="#0000e5"/>
<rect x="99.20" y="723.50" width="8.65" height="6.20" fill="#0000e5"/>
<rect x="107.55" y="723.50" width="8.65" height="6.20" fill="#0000e5"/>
<rect x="115.90" y="723.50" width="8.65" height="6.20" fill="#00f0ff"/>
<rect x="124.25" y="723.50" width="8.65" height="6.20" fill="#66ff99"/>
<rect x="132.60" y="723.50" width="8.65" height="6.20" fill="#66ff99"/>
<rect x="140.95" y="723.50" width="8.65" height="6.20" fill="#66ff99"/>
<rect x="149.30" y="723.50" width="8.65" height="6.20" fill="#66ff99"/>
<rect x="157.65" y="723.50" width="8.65" height="6.20" fill="#66ff99"/>
<rect x="166.00" y="723.50" width="8.65" height="6.20" fill="#66ff99"/>
<rect x="174.35" y="723.50" width="11.65" height="6.20" fill="#66ff99"/>
<rect x="79.50" y="729.40" width="11.65" height="6.20" fill="#66ff99"/>
<rect x="90.85" y="729.40" width="8.65" height="6.20" fill="#66ff99"/>
<rect x="99.20" y="729.40" width="8.65" height="6.20" fill="#66ff99"/>
<rect x="107.55" y="729.40" width="8.65" height="6.20" fill="#66ff99"/>
<rect x="115.90" y="729.40" width="8.65" height="6.20" fill="#66ff99"/>
<rect x="124.25" y="729.40" width="8.65" height="6.20" fill="#66ff99"/>
<rect x="132.60" y="729.40" width="8.65" height="6.20" fill="#b3ff4c"/>
<rect x="140.95" y="729.40" width="8.65" height="6.20" fill="#ff4200"/>
<rect x="149.30" y="729.40" width="8.65" height="6.20" fill="#ff0000"/>
<rect x="157.65" y="729.40" width="8.65" height="6.20" fill="#ff4200"/>
<rect x="166.00" y="729.40" width="8.65" height="6.20" fill="#66ff99"/>
<rect x="174.35" y="729.40" width="11.65" height="6.20" fill="#66ff99"/>
<rect x="79.50" y="735.30" width="11.65" height="6.20" fill="#b3ff4c"/>
<rect x="90.85" y="735.30" width="8.65" height="6.20" fill="#00f0ff"/>
<rect x="99.20" y="735.30" width="8.65" height="6.20" fill="#00f0ff"/>
<rect x="107.55" y="735.30" width="8.65" height="6.20" fill="#00f0ff"/>
<rect x="115.90" y="735.30" width="8.65" height="6.20" fill="#00f0ff"/>
<rect x="124.25" y="735.30" width="8.65" height="6.20" fill="#000080"/>
<rect x="132.60" y="735.30" width="8.65" height="6.20" fill="#00f0ff"/>
<rect x="140.95" y="735.30" width="8.65" height="6.20" fill="#00f0ff"/>
<rect x="149.30" y="735.30" width="8.65" height="6.20" fill="#00f0ff"/>
<rect x="157.65" y="735.30" width="8.65" height="6.20" fill="#38ffc7"/>
<rect x="166.00" y="735.30" width="8.65" height="6.20" fill="#66ff99"/>
<rect x="174.35" y="735.30" width="11.65" height="6.20" fill="#66ff99"/>
<rect x="79.50" y="741.20" width="11.65" height="6.20" fill="#66ff99"/>
<rect x="90.85" y="741.20" width="8.65" height="6.20" fill="#f0ff0f"/>
<rect x="99.20" y="741.20" width="8.65" height="6.20" fill="#ff4200"/>
<rect x="107.55" y="741.20" width="8.65" height="6.20" fill="#ff4200"/>
<rect x="115.90" y="741.20" width="8.65" height="6.20" fill="#ffc700"/>
<rect x="124.25" y="741.20" width="8.65" height="6.20" fill="#f0ff0f"/>
<rect x="132.60" y="741.20" width="8.65" height="6.20" fill="#ff4200"/>
<rect x="140.95" y="741.20" width="8.65" height="6.20" fill="#ff4200"/>
<rect x="149.30" y="741.20" width="8.65" height="6.20" fill="#ff4200"/>
<rect x="157.65" y="741.20" width="8.65" height="6.20" fill="#f0ff0f"/>
<rect x="166.00" y="741.20" width="8.65" height="6.20" fill="#66ff99"/>
<rect x="174.35" y="741.20" width="11.65" height="6.20" fill="#66ff99"/>
<rect x="79.50" y="747.10" width="11.65" height="6.20" fill="#66ff99"/>
<rect x="90.85" y="747.10" width="8.65" height="6.20" fill="#00f0ff"/>
<rect x="99.20" y="747.10" width="8.65" height="6.20" fill="#00f0ff"/>
<rect x="107.55" y="747.10" width="8.65" height="6.20" fill="#0066ff"/>
<rect x="115.90" y="747.10" width="8.65" height="6.20" fill="#00f0ff"/>
<rect x="124.25" y="747.10" width="8.65" height="6.20" fill="#f0ff0f"/>
<rect x="132.60" y="747.10" width="8.65" height="6.20" fill="#f0ff0f"/>
<rect x="140.95" y="747.10" width="8.65" height="6.20" fill="#f0ff0f"/>
<rect x="149.30" y="747.10" width="8.65" height="6.20" fill="#ff4200"/>
<rect x="157.65" y="747.10" width="8.65" height="6.20" fill="#ffc700"/>
<rect x="166.00" y="747.10" width="8.65" height="6.20" fill="#66ff99"/>
<rect x="174.35" y="747.10" width="11.65" height="6.20" fill="#66ff99"/>
<rect x="79.50" y="753.00" width="11.65" height="6.20" fill="#66ff99"/>
<rect x="90.85" y="753.00" width="8.65" height="6.20" fill="#00f0ff"/>
<rect x="99.20" y="753.00" width="8.65" height="6.20" fill="#66ff99"/>
<rect x="107.55" y="753.00" width="8.65" height="6.20" fill="#00f0ff"/>
<rect x="115.90" y="753.00" width="8.65" height="6.20" fill="#00f0ff"/>
<rect x="124.25" y="753.00" width="8.65" height="6.20" fill="#b3ff4c"/>
<rect x="132.60" y="753.00" width="8.65" height="6.20" fill="#ff0000"/>
<rect x="140.95" y="753.00" width="8.65" height="6.20" fill="#b3ff4c"/>
<rect x="149.30" y="753.00" width="8.65" height="6.20" fill="#00f0ff"/>
<rect x="157.65" y="753.00" width="8.65" height="6.20" fill="#00f0ff"/>
<rect x="166.00" y="753.00" width="8.65" height="6.20" fill="#00f0ff"/>
<rect x="174.35" y="753.00" width="11.65" height="6.20" fill="#66ff99"/>
<rect x="79.50" y="758.90" width="11.65" height="6.20" fill="#66ff99"/>
<rect x="90.85" y="758.90" width="8.65" height="6.20" fill="#b3ff4c"/>
<rect x="99.20" y="758.90" width="8.65" height="6.20" fill="#00f0ff"/>
<rect x="107.55" y="758.90" width="8.65" height="6.20" fill="#00f0ff"/>
<rect x="115.90" y="758.90" width="8.65" height="6.20" fill="#00f0ff"/>
<rect x="124.25" y="758.90" width="8.65" height="6.20" fill="#00f0ff"/>
<rect x="132.60" y="758.90" width="8.65" height="6.20" fill="#b3ff4c"/>
<rect x="140.95" y="758.90" width="8.65" height="6.20" fill="#b3ff4c"/>
<rect x="149.30" y="758.90" width="8.65" height="6.20" fill="#b3ff4c"/>
<rect x="157.65" y="758.90" width="8.65" height="6.20" fill="#66ff99"/>
<rect x="166.00" y="758.90" width="8.65" height="6.20" fill="#66ff99"/>
<rect x="174.35" y="758.90" width="11.65" height="6.20" fill="#ffc700"/>
<rect x="79.50" y="764.80" width="11.65" height="6.20" fill="#66ff99"/>
<rect x="90.85" y="764.80" width="8.65" height="6.20" fill="#66ff99"/>
<rect x="99.20" y="764.80" width="8.65" height="6.20" fill="#66ff99"/>
<rect x="107.55" y="764.80" width="8.65" height="6.20" fill="#66ff99"/>
<rect x="115.90" y="764.80" width="8.65" height="6.20" fill="#00f0ff"/>
<rect x="124.25" y="764.80" width="8.65" height="6.20" fill="#66ff99"/>
<rect x="132.60" y="764.80" width="8.65" height="6.20" fill="#ff4200"/>
<rect x="140.95" y="764.80" width="8.65" height="6.20" fill="#ff0000"/>
<rect x="149.30" y="764.80" width="8.65" height="6.20" fill="#f0ff0f"/>
<rect x="157.65" y="764.80" width="8.65" height="6.20" fill="#66ff99"/>
<rect x="166.00" y="764.80" width="8.65" height="6.20" fill="#66ff99"/>
<rect x="174.35" y="764.80" width="11.65" height="6.20" fill="#66ff99"/>
<rect x="79.50" y="770.70" width="11.65" height="6.20" fill="#66ff99"/>
<rect x="90.85" y="770.70" width="8.65" height="6.20" fill="#f0ff0f"/>
<rect x="99.20" y="770.70" width="8.65" height="6.20" fill="#66ff99"/>
<rect x="107.55" y="770.70" width="8.65" height="6.20" fill="#66ff99"/>
<rect x="115.90" y="770.70" width="8.65" height="6.20" fill="#66ff99"/>
<rect x="124.25" y="770.70" width="8.65" height="6.20" fill="#f0ff0f"/>
<rect x="132.60" y="770.70" width="8.65" height="6.20" fill="#ff0000"/>
<rect x="140.95" y="770.70" width="8.65" height="6.20" fill="#ff4200"/>
<rect x="149.30" y="770.70" width="8.65" height="6.20" fill="#ff4200"/>
<rect x="157.65" y="770.70" width="8.65" height="6.20" fill="#f0ff0f"/>
<rect x="166.00" y="770.70" width="8.65" height="6.20" fill="#00f0ff"/>
<rect x="174.35" y="770.70" width="11.65" height="6.20" fill="#66ff99"/>
<rect x="79.50" y="776.60" width="11.65" height="6.20" fill="#f0ff0f"/>
<rect x="90.85" y="776.60" width="8.65" height="6.20" fill="#66ff99"/>
<rect x="99.20" y="776.60" width="8.65" height="6.20" fill="#0000e5"/>
<rect x="107.55" y="776.60" width="8.65" height="6.20" fill="#00f0ff"/>
<rect x="115.90" y="776.60" width="8.65" height="6.20" fill="#00f0ff"/>
<rect x="124.25" y="776.60" width="8.65" height="6.20" fill="#00f0ff"/>
<rect x="132.60" y="776.60" width="8.65" height="6.20" fill="#0066ff"/>
<rect x="140.95" y="776.60" width="8.65" height="6.20" fill="#f0ff0f"/>
<rect x="149.30" y="776.60" width="8.65" height="6.20" fill="#66ff99"/>
<rect x="157.65" y="776.60" width="8.65" height="6.20" fill="#66ff99"/>
<rect x="166.00" y="776.60" width="8.65" height="6.20" fill="#66ff99"/>
<rect x="174.35" y="776.60" width="11.65" height="6.20" fill="#66ff99"/>
<rect x="79.50" y="782.50" width="11.65" height="6.20" fill="#66ff99"/>
<rect x="90.85" y="782.50" width="8.65" height="6.20" fill="#66ff99"/>
<rect x="99.20" y="782.50" width="8.65" height="6.20" fill="#00f0ff"/>
<rect x="107.55" y="782.50" width="8.65" height="6.20" fill="#00f0ff"/>
<rect x="115.90" y="782.50" width="8.65" height="6.20" fill="#0066ff"/>
<rect x="124.25" y="782.50" width="8.65" height="6.20" fill="#0066ff"/>
<rect x="132.60" y="782.50" width="8.65" height="6.20" fill="#00f0ff"/>
<rect x="140.95" y="782.50" width="8.65" height="6.20" fill="#f0ff0f"/>
<rect x="149.30" y="782.50" width="8.65" height="6.20" fill="#f0ff0f"/>
<rect x="157.65" y="782.50" width="8.65" height="6.20" fill="#f0ff0f"/>
<rect x="166.00" y="782.50" width="8.65" height="6.20" fill="#66ff99"/>
<rect x="174.35" y="782.50" width="11.65" height="6.20" fill="#66ff99"/>
<rect x="79.50" y="788.40" width="11.65" height="6.20" fill="#b3ff4c"/>
<rect x="90.85" y="788.40" width="8.65" height="6.20" fill="#f0ff0f"/>
<rect x="99.20" y="788.40" width="8.65" height="6.20" fill="#ffc700"/>
<rect x="107.55" y="788.40" width="8.65" height="6.20" fill="#ff8000"/>
<rect x="115.90" y="788.40" width="8.65" height="6.20" fill="#ff8000"/>
<rect x="124.25" y="788.40" width="8.65" height="6.20" fill="#bd0000"/>
<rect x="132.60" y="788.40" width="8.65" height="6.20" fill="#bd0000"/>
<rect x="140.95" y="788.40" width="8.65" height="6.20" fill="#ff4200"/>
<rect x="149.30" y="788.40" width="8.65" height="6.20" fill="#ff4200"/>
<rect x="157.65" y="788.40" width="8.65" height="6.20" fill="#ff4200"/>
<rect x="166.00" y="788.40" width="8.65" height="6.20" fill="#f0ff0f"/>
<rect x="174.35" y="788.40" width="11.65" height="6.20" fill="#66ff99"/>
<rect x="79.50" y="794.30" width="11.65" height="6.20" fill="#66ff99"/>
<rect x="90.85" y="794.30" width="8.65" height="6.20" fill="#66ff99"/>
<rect x="99.20" y="794.30" width="8.65" height="6.20" fill="#66ff99"/>
<rect x="107.55" y="794.30" width="8.65" height="6.20" fill="#66ff99"/>
<rect x="115.90" y="794.30" width="8.65" height="6.20" fill="#b3ff4c"/>
<rect x="124.25" y="794.30" width="8.65" height="6.20" fill="#f0ff0f"/>
<rect x="132.60" y="794.30" width="8.65" height="6.20" fill="#f0ff0f"/>
<rect x="140.95" y="794.30" width="8.65" height="6.20" fill="#ffc700"/>
<rect x="149.30" y="794.30" width="8.65" height="6.20" fill="#ff4200"/>
<rect x="157.65" y="794.30" width="8.65" height="6.20" fill="#ffc700"/>
<rect x="166.00" y="794.30" width="8.65" height="6.20" fill="#b3ff4c"/>
<rect x="174.35" y="794.30" width="11.65" height="6.20" fill="#66ff99"/>
<rect x="79.50" y="800.20" width="11.65" height="6.20" fill="#66ff99"/>
<rect x="90.85" y="800.20" width="8.65" height="6.20" fill="#00f0ff"/>
<rect x="99.20" y="800.20" width="8.65" height="6.20" fill="#00f0ff"/>
<rect x="107.55" y="800.20" width="8.65" height="6.20" fill="#00f0ff"/>
<rect x="115.90" y="800.20" width="8.65" height="6.20" fill="#0066ff"/>
<rect x="124.25" y="800.20" width="8.65" height="6.20" fill="#00f0ff"/>
<rect x="132.60" y="800.20" width="8.65" height="6.20" fill="#00f0ff"/>
<rect x="140.95" y="800.20" width="8.65" height="6.20" fill="#00f0ff"/>
<rect x="149.30" y="800.20" width="8.65" height="6.20" fill="#f0ff0f"/>
<rect x="157.65" y="800.20" width="8.65" height="6.20" fill="#ff4200"/>
<rect x="166.00" y="800.20" width="8.65" height="6.20" fill="#f0ff0f"/>
<rect x="174.35" y="800.20" width="11.65" height="6.20" fill="#66ff99"/>
<rect x="79.50" y="806.10" width="11.65" height="6.20" fill="#66ff99"/>
<rect x="90.85" y="806.10" width="8.65" height="6.20" fill="#00f0ff"/>
<rect x="99.20" y="806.10" width="8.65" height="6.20" fill="#ffc700"/>
<rect x="107.55" y="806.10" width="8.65" height="6.20" fill="#ffc700"/>
<rect x="115.90" y="806.10" width="8.65" height="6.20" fill="#00f0ff"/>
<rect x="124.25" y="806.10" width="8.65" height="6.20" fill="#0000e5"/>
<rect x="132.60" y="806.10" width="8.65" height="6.20" fill="#00f0ff"/>
<rect x="140.95" y="806.10" width="8.65" height="6.20" fill="#00f0ff"/>
<rect x="149.30" y="806.10" width="8.65" height="6.20" fill="#f0ff0f"/>
<rect x="157.65" y="806.10" width="8.65" height="6.20" fill="#f0ff0f"/>
<rect x="166.00" y="806.10" width="8.65" height="6.20" fill="#66ff99"/>
<rect x="174.35" y="806.10" width="11.65" height="6.20" fill="#66ff99"/>
<rect x="79.50" y="812.00" width="11.65" height="6.20" fill="#66ff99"/>
<rect x="90.85" y="812.00" width="8.65" height="6.20" fill="#66ff99"/>
<rect x="99.20" y="812.00" width="8.65" height="6.20" fill="#00f0ff"/>
<rect x="107.55" y="812.00" width="8.65" height="6.20" fill="#0066ff"/>
<rect x="115.90" y="812.00" width="8.65" height="6.20" fill="#0066ff"/>
<rect x="124.25" y="812.00" width="8.65" height="6.20" fill="#00f0ff"/>
<rect x="132.60" y="812.00" width="8.65" height="6.20" fill="#ff4200"/>
<rect x="140.95" y="812.00" width="8.65" height="6.20" fill="#ff0000"/>
<rect x="149.30" y="812.00" width="8.65" height="6.20" fill="#f0ff0f"/>
<rect x="157.65" y="812.00" width="8.65" height="6.20" fill="#f0ff0f"/>
<rect x="166.00" y="812.00" width="8.65" height="6.20" fill="#00f0ff"/>
<rect x="174.35" y="812.00" width="11.65" height="6.20" fill="#66ff99"/>
<rect x="79.50" y="817.90" width="11.65" height="6.20" fill="#f0ff0f"/>
<rect x="90.85" y="817.90" width="8.65" height="6.20" fill="#f0ff0f"/>
<rect x="99.20" y="817.90" width="8.65" height="6.20" fill="#00f0ff"/>
<rect x="107.55" y="817.90" width="8.65" height="6.20" fill="#0066ff"/>
<rect x="115.90" y="817.90" width="8.65" height="6.20" fill="#00f0ff"/>
<rect x="124.25" y="817.90" width="8.65" height="6.20" fill="#00f0ff"/>
<rect x="132.60" y="817.90" width="8.65" height="6.20" fill="#66ff99"/>
<rect x="140.95" y="817.90" width="8.65" height="6.20" fill="#66ff99"/>
<rect x="149.30" y="817.90" width="8.65" height="6.20" fill="#b3ff4c"/>
<rect x="157.65" y="817.90" width="8.65" height="6.20" fill="#f0ff0f"/>
<rect x="166.00" y="817.90" width="8.65" height="6.20" fill="#f0ff0f"/>
<rect x="174.35" y="817.90" width="11.65" height="6.20" fill="#b3ff4c"/>
<rect x="79.50" y="823.80" width="11.65" height="6.20" fill="#66ff99"/>
<rect x="90.85" y="823.80" width="8.65" height="6.20" fill="#66ff99"/>
<rect x="99.20" y="823.80" width="8.65" height="6.20" fill="#66ff99"/>
<rect x="107.55" y="823.80" width="8.65" height="6.20" fill="#00f0ff"/>
<rect x="115.90" y="823.80" width="8.65" height="6.20" fill="#f0ff0f"/>
<rect x="124.25" y="823.80" width="8.65" height="6.20" fill="#ff4200"/>
<rect x="132.60" y="823.80" width="8.65" height="6.20" fill="#ff0000"/>
<rect x="140.95" y="823.80" width="8.65" height="6.20" fill="#ff0000"/>
<rect x="149.30" y="823.80" width="8.65" height="6.20" fill="#ff4200"/>
<rect x="157.65" y="823.80" width="8.65" height="6.20" fill="#f0ff0f"/>
<rect x="166.00" y="823.80" width="8.65" height="6.20" fill="#66ff99"/>
<rect x="174.35" y="823.80" width="11.65" height="6.20" fill="#66ff99"/>
<rect x="79.50" y="829.70" width="11.65" height="9.20" fill="#66ff99"/>
<rect x="90.85" y="829.70" width="8.65" height="9.20" fill="#66ff99"/>
<rect x="99.20" y="829.70" width="8.65" height="9.20" fill="#00f0ff"/>
<rect x="107.55" y="829.70" width="8.65" height="9.20" fill="#0066ff"/>
<rect x="115.90" y="829.70" width="8.65" height="9.20" fill="#0066ff"/>
<rect x="124.25" y="829.70" width="8.65" height="9.20" fill="#f0ff0f"/>
<rect x="132.60" y="829.70" width="8.65" height="9.20" fill="#ff4200"/>
<rect x="140.95" y="829.70" width="8.65" height="9.20" fill="#f0ff0f"/>
<rect x="149.30" y="829.70" width="8.65" height="9.20" fill="#ffc700"/>
<rect x="157.65" y="829.70" width="8.65" height="9.20" fill="#f0ff0f"/>
<rect x="166.00" y="829.70" width="8.65" height="9.20" fill="#b3ff4c"/>
<rect x="174.35" y="829.70" width="11.65" height="9.20" fill="#66ff99"/>
</g></g>
<rect x="82.5" y="652.7" width="100.2" height="182.9" fill="none" stroke="#7a8a7a" stroke-width="0.6"/>
<line x1="107.55" y1="652.7" x2="107.55" y2="654.5" stroke="#333" stroke-width="0.8" />
<line x1="107.55" y1="835.6" x2="107.55" y2="833.8000000000001" stroke="#333" stroke-width="0.8" />
<line x1="132.6" y1="652.7" x2="132.6" y2="654.5" stroke="#333" stroke-width="0.8" />
<line x1="132.6" y1="835.6" x2="132.6" y2="833.8000000000001" stroke="#333" stroke-width="0.8" />
<line x1="157.65" y1="652.7" x2="157.65" y2="654.5" stroke="#333" stroke-width="0.8" />
<line x1="157.65" y1="835.6" x2="157.65" y2="833.8000000000001" stroke="#333" stroke-width="0.8" />
<linearGradient id="cb652" x1="0" y1="0" x2="0" y2="1"><stop offset="0.0000" stop-color="#800000"/><stop offset="0.0156" stop-color="#8f0000"/><stop offset="0.0312" stop-color="#9f0000"/><stop offset="0.0469" stop-color="#af0000"/><stop offset="0.0625" stop-color="#bf0000"/><stop offset="0.0781" stop-color="#cf0000"/><stop offset="0.0938" stop-color="#df0000"/><stop offset="0.1094" stop-color="#ef0000"/><stop offset="0.1250" stop-color="#ff0000"/><stop offset="0.1406" stop-color="#ff1000"/><stop offset="0.1562" stop-color="#ff2000"/><stop offset="0.1719" stop-color="#ff3000"/><stop offset="0.1875" stop-color="#ff4000"/><stop offset="0.2031" stop-color="#ff5000"/><stop offset="0.2188" stop-color="#ff6000"/><stop offset="0.2344" stop-color="#ff7000"/><stop offset="0.2500" stop-color="#ff8000"/><stop offset="0.2656" stop-color="#ff8f00"/><stop offset="0.2812" stop-color="#ff9f00"/><stop offset="0.2969" stop-color="#ffaf00"/><stop offset="0.3125" stop-color="#ffbf00"/><stop offset="0.3281" stop-color="#ffcf00"/><stop offset="0.3438" stop-color="#ffdf00"/><stop offset="0.3594" stop-color="#ffef00"/><stop offset="0.3750" stop-color="#ffff00"/><stop offset="0.3906" stop-color="#efff10"/><stop offset="0.4062" stop-color="#dfff20"/><stop offset="0.4219" stop-color="#cfff30"/><stop offset="0.4375" stop-color="#bfff40"/><stop offset="0.4531" stop-color="#afff50"/><stop offset="0.4688" stop-color="#9fff60"/><stop offset="0.4844" stop-color="#8fff70"/><stop offset="0.5000" stop-color="#80ff80"/><stop offset="0.5156" stop-color="#70ff8f"/><stop offset="0.5312" stop-color="#60ff9f"/><stop offset="0.5469" stop-color="#50ffaf"/><stop offset="0.5625" stop-color="#40ffbf"/><stop offset="0.5781" stop-color="#30ffcf"/><stop offset="0.5938" stop-color="#20ffdf"/><stop offset="0.6094" stop-color="#10ffef"/><stop offset="0.6250" stop-color="#00ffff"/><stop offset="0.6406" stop-color="#00efff"/><stop offset="0.6562" stop-color="#00dfff"/><stop offset="0.6719" stop-color="#00cfff"/><stop offset="0.6875" stop-color="#00bfff"/><stop offset="0.7031" stop-color="#00afff"/><stop offset="0.7188" stop-color="#009fff"/><stop offset="0.7344" stop-color="#008fff"/><stop offset="0.7500" stop-color="#0080ff"/><stop offset="0.7656" stop-color="#0070ff"/><stop offset="0.7812" stop-color="#0060ff"/><stop offset="0.7969" stop-color="#0050ff"/><stop offset="0.8125" stop-color="#0040ff"/><stop offset="0.8281" stop-color="#0030ff"/><stop offset="0.8438" stop-color="#0020ff"/><stop offset="0.8594" stop-color="#0010ff"/><stop offset="0.8750" stop-color="#0000ff"/><stop offset="0.8906" stop-color="#0000ef"/><stop offset="0.9062" stop-color="#0000df"/><stop offset="0.9219" stop-color="#0000cf"/><stop offset="0.9375" stop-color="#0000bf"/><stop offset="0.9531" stop-color="#0000af"/><stop offset="0.9688" stop-color="#00009f"/><stop offset="0.9844" stop-color="#00008f"/><stop offset="1.0000" stop-color="#000080"/></linearGradient>
<rect x="195.1" y="652.7" width="14.9" height="182.9" fill="url(#cb652)" stroke="#9a9a9a" stroke-width="0.5"/>
<line x1="195.1" y1="698.4250000000001" x2="196.7" y2="698.4250000000001" stroke="#333" stroke-width="0.8" />
<line x1="210.0" y1="698.4250000000001" x2="208.4" y2="698.4250000000001" stroke="#333" stroke-width="0.8" />
<line x1="195.1" y1="744.1500000000001" x2="196.7" y2="744.1500000000001" stroke="#333" stroke-width="0.8" />
<line x1="210.0" y1="744.1500000000001" x2="208.4" y2="744.1500000000001" stroke="#333" stroke-width="0.8" />
<line x1="195.1" y1="789.875" x2="196.7" y2="789.875" stroke="#333" stroke-width="0.8" />
<line x1="210.0" y1="789.875" x2="208.4" y2="789.875" stroke="#333" stroke-width="0.8" />
<text x="212.2" y="656.5" font-size="10.4" text-anchor="start" font-weight="bold" fill="#000" >1</text>
<text x="212.2" y="702.225" font-size="10.4" text-anchor="start" font-weight="bold" fill="#000" >0.5</text>
<text x="212.2" y="747.95" font-size="10.4" text-anchor="start" font-weight="bold" fill="#000" >0</text>
<text x="212.2" y="793.675" font-size="10.4" text-anchor="start" font-weight="bold" fill="#000" >-0.5</text>
<text x="212.2" y="839.4" font-size="10.4" text-anchor="start" font-weight="bold" fill="#000" >-1</text>
<text x="75.5" y="646.4" font-size="10.5" font-weight="bold" textLength="115.6" lengthAdjust="spacingAndGlyphs">Correlation coefficient</text>
<text x="82.2" y="847.2" font-size="9.9" text-anchor="middle" font-weight="bold" fill="#000" >-4</text>
<text x="107.25" y="847.2" font-size="9.9" text-anchor="middle" font-weight="bold" fill="#000" >-2</text>
<text x="132.29999999999998" y="847.2" font-size="9.9" text-anchor="middle" font-weight="bold" fill="#000" >0</text>
<text x="157.35" y="847.2" font-size="9.9" text-anchor="middle" font-weight="bold" fill="#000" >2</text>
<text x="182.39999999999998" y="847.2" font-size="9.9" text-anchor="middle" font-weight="bold" fill="#000" >4</text>
<text x="133.3" y="859" font-size="10.2" text-anchor="middle" font-weight="bold" fill="#000" textLength="72" lengthAdjust="spacingAndGlyphs">Time offset (s)</text>
<rect x="292.5" y="649.4" width="222.5" height="179.20000000000005" fill="none" stroke="#a2a2a2" stroke-width="1.1"/>
<line x1="292.5" y1="649.4" x2="294.5" y2="649.4" stroke="#a2a2a2" stroke-width="0.8" />
<line x1="515" y1="649.4" x2="513" y2="649.4" stroke="#a2a2a2" stroke-width="0.8" />
<text x="289.9" y="652.64" font-size="9.0" text-anchor="end" font-weight="bold" fill="#000" >0.4</text>
<line x1="292.5" y1="679.2666666666667" x2="294.5" y2="679.2666666666667" stroke="#a2a2a2" stroke-width="0.8" />
<line x1="515" y1="679.2666666666667" x2="513" y2="679.2666666666667" stroke="#a2a2a2" stroke-width="0.8" />
<text x="289.9" y="682.5066666666667" font-size="9.0" text-anchor="end" font-weight="bold" fill="#000" >0.3</text>
<line x1="292.5" y1="709.1333333333333" x2="294.5" y2="709.1333333333333" stroke="#a2a2a2" stroke-width="0.8" />
<line x1="515" y1="709.1333333333333" x2="513" y2="709.1333333333333" stroke="#a2a2a2" stroke-width="0.8" />
<text x="289.9" y="712.3733333333333" font-size="9.0" text-anchor="end" font-weight="bold" fill="#000" >0.2</text>
<line x1="292.5" y1="739.0" x2="294.5" y2="739.0" stroke="#a2a2a2" stroke-width="0.8" />
<line x1="515" y1="739.0" x2="513" y2="739.0" stroke="#a2a2a2" stroke-width="0.8" />
<text x="289.9" y="742.24" font-size="9.0" text-anchor="end" font-weight="bold" fill="#000" >0.1</text>
<line x1="292.5" y1="768.8666666666667" x2="294.5" y2="768.8666666666667" stroke="#a2a2a2" stroke-width="0.8" />
<line x1="515" y1="768.8666666666667" x2="513" y2="768.8666666666667" stroke="#a2a2a2" stroke-width="0.8" />
<text x="289.9" y="772.1066666666667" font-size="9.0" text-anchor="end" font-weight="bold" fill="#000" >0</text>
<line x1="292.5" y1="798.7333333333333" x2="294.5" y2="798.7333333333333" stroke="#a2a2a2" stroke-width="0.8" />
<line x1="515" y1="798.7333333333333" x2="513" y2="798.7333333333333" stroke="#a2a2a2" stroke-width="0.8" />
<text x="289.9" y="801.9733333333334" font-size="9.0" text-anchor="end" font-weight="bold" fill="#000" >-0.1</text>
<line x1="292.5" y1="828.6" x2="294.5" y2="828.6" stroke="#a2a2a2" stroke-width="0.8" />
<line x1="515" y1="828.6" x2="513" y2="828.6" stroke="#a2a2a2" stroke-width="0.8" />
<text x="289.9" y="831.84" font-size="9.0" text-anchor="end" font-weight="bold" fill="#000" >-0.2</text>
<line x1="292.5" y1="828.6" x2="292.5" y2="826.6" stroke="#a2a2a2" stroke-width="0.8" />
<line x1="292.5" y1="649.4" x2="292.5" y2="651.4" stroke="#a2a2a2" stroke-width="0.8" />
<text x="291.3" y="839.4" font-size="9.0" text-anchor="middle" font-weight="bold" fill="#000" >-4</text>
<line x1="348.125" y1="828.6" x2="348.125" y2="826.6" stroke="#a2a2a2" stroke-width="0.8" />
<line x1="348.125" y1="649.4" x2="348.125" y2="651.4" stroke="#a2a2a2" stroke-width="0.8" />
<text x="346.925" y="839.4" font-size="9.0" text-anchor="middle" font-weight="bold" fill="#000" >-2</text>
<line x1="403.75" y1="828.6" x2="403.75" y2="826.6" stroke="#a2a2a2" stroke-width="0.8" />
<line x1="403.75" y1="649.4" x2="403.75" y2="651.4" stroke="#a2a2a2" stroke-width="0.8" />
<text x="402.55" y="839.4" font-size="9.0" text-anchor="middle" font-weight="bold" fill="#000" >0</text>
<line x1="459.375" y1="828.6" x2="459.375" y2="826.6" stroke="#a2a2a2" stroke-width="0.8" />
<line x1="459.375" y1="649.4" x2="459.375" y2="651.4" stroke="#a2a2a2" stroke-width="0.8" />
<text x="458.175" y="839.4" font-size="9.0" text-anchor="middle" font-weight="bold" fill="#000" >2</text>
<line x1="515.0" y1="828.6" x2="515.0" y2="826.6" stroke="#a2a2a2" stroke-width="0.8" />
<line x1="515.0" y1="649.4" x2="515.0" y2="651.4" stroke="#a2a2a2" stroke-width="0.8" />
<text x="513.8" y="839.4" font-size="9.0" text-anchor="middle" font-weight="bold" fill="#000" >4</text>
<text x="405.2" y="851.3" font-size="9.4" text-anchor="middle" font-weight="bold" fill="#000" textLength="64.5" lengthAdjust="spacingAndGlyphs">Time offset (s)</text>
<text transform="translate(269.8,738) rotate(-90)" font-size="9.4" text-anchor="middle" font-weight="bold" textLength="103" lengthAdjust="spacingAndGlyphs">Correlation coefficient</text>
<line x1="428.78125" y1="649.4" x2="428.78125" y2="828.6" stroke="#a0a0a0" stroke-width="1.6" />
<line x1="403.75" y1="649.4" x2="403.75" y2="828.6" stroke="#000" stroke-width="1.7" stroke-dasharray="9.4,7.6"/>
<path d="M292.50,768.30 C293.23,768.48 295.40,768.73 296.90,769.40 C298.40,770.07 299.95,771.15 301.50,772.30 C303.05,773.45 304.65,774.77 306.20,776.30 C307.75,777.83 309.27,779.57 310.80,781.50 C312.33,783.43 313.87,785.78 315.40,787.90 C316.93,790.02 318.47,792.08 320.00,794.20 C321.53,796.32 323.07,798.58 324.60,800.60 C326.13,802.62 327.67,804.48 329.20,806.30 C330.73,808.12 332.25,810.20 333.80,811.50 C335.35,812.80 336.95,813.55 338.50,814.10 C340.05,814.65 341.28,814.73 343.10,814.80 C344.92,814.87 347.57,814.73 349.40,814.50 C351.23,814.27 352.42,813.40 354.10,813.40 C355.78,813.40 357.82,813.70 359.50,814.50 C361.18,815.30 362.40,816.92 364.20,818.20 C366.00,819.48 368.38,821.52 370.30,822.20 C372.22,822.88 374.02,822.87 375.70,822.30 C377.38,821.73 379.17,820.05 380.40,818.80 C381.63,817.55 382.10,817.03 383.10,814.80 C384.10,812.57 385.28,808.98 386.40,805.40 C387.52,801.82 388.57,798.13 389.80,793.30 C391.03,788.47 392.45,782.02 393.80,776.40 C395.15,770.78 396.67,764.87 397.90,759.60 C399.13,754.33 400.27,749.03 401.20,744.80 C402.13,740.57 402.65,738.08 403.50,734.20 C404.35,730.32 405.25,725.73 406.30,721.50 C407.35,717.27 408.55,713.02 409.80,708.80 C411.05,704.58 412.35,700.03 413.80,696.20 C415.25,692.37 416.95,688.60 418.50,685.80 C420.05,683.00 421.57,681.03 423.10,679.40 C424.63,677.77 426.35,676.67 427.70,676.00 C429.05,675.33 429.85,675.32 431.20,675.40 C432.55,675.48 434.27,675.73 435.80,676.50 C437.33,677.27 438.87,678.45 440.40,680.00 C441.93,681.55 443.47,683.58 445.00,685.80 C446.53,688.02 448.07,690.42 449.60,693.30 C451.13,696.18 452.50,699.40 454.20,703.10 C455.90,706.80 458.08,711.85 459.80,715.50 C461.52,719.15 462.92,721.92 464.50,725.00 C466.08,728.08 467.70,731.22 469.30,734.00 C470.90,736.78 472.52,739.32 474.10,741.70 C475.68,744.08 477.22,746.40 478.80,748.30 C480.38,750.20 481.80,751.82 483.60,753.10 C485.40,754.38 487.62,755.32 489.60,756.00 C491.58,756.68 493.72,756.80 495.50,757.20 C497.28,757.60 498.70,757.90 500.30,758.40 C501.90,758.90 503.32,759.50 505.10,760.20 C506.88,760.90 509.35,761.87 511.00,762.60 C512.65,763.33 514.33,764.27 515.00,764.60" fill="none" stroke="#000" stroke-width="2.9" stroke-linejoin="round" stroke-linecap="round"/>
<text x="422.3" y="640.6" font-size="10" fill="#1a1a1a" textLength="19.3" lengthAdjust="spacingAndGlyphs">0.9 s</text>
</svg>
</body></html>
